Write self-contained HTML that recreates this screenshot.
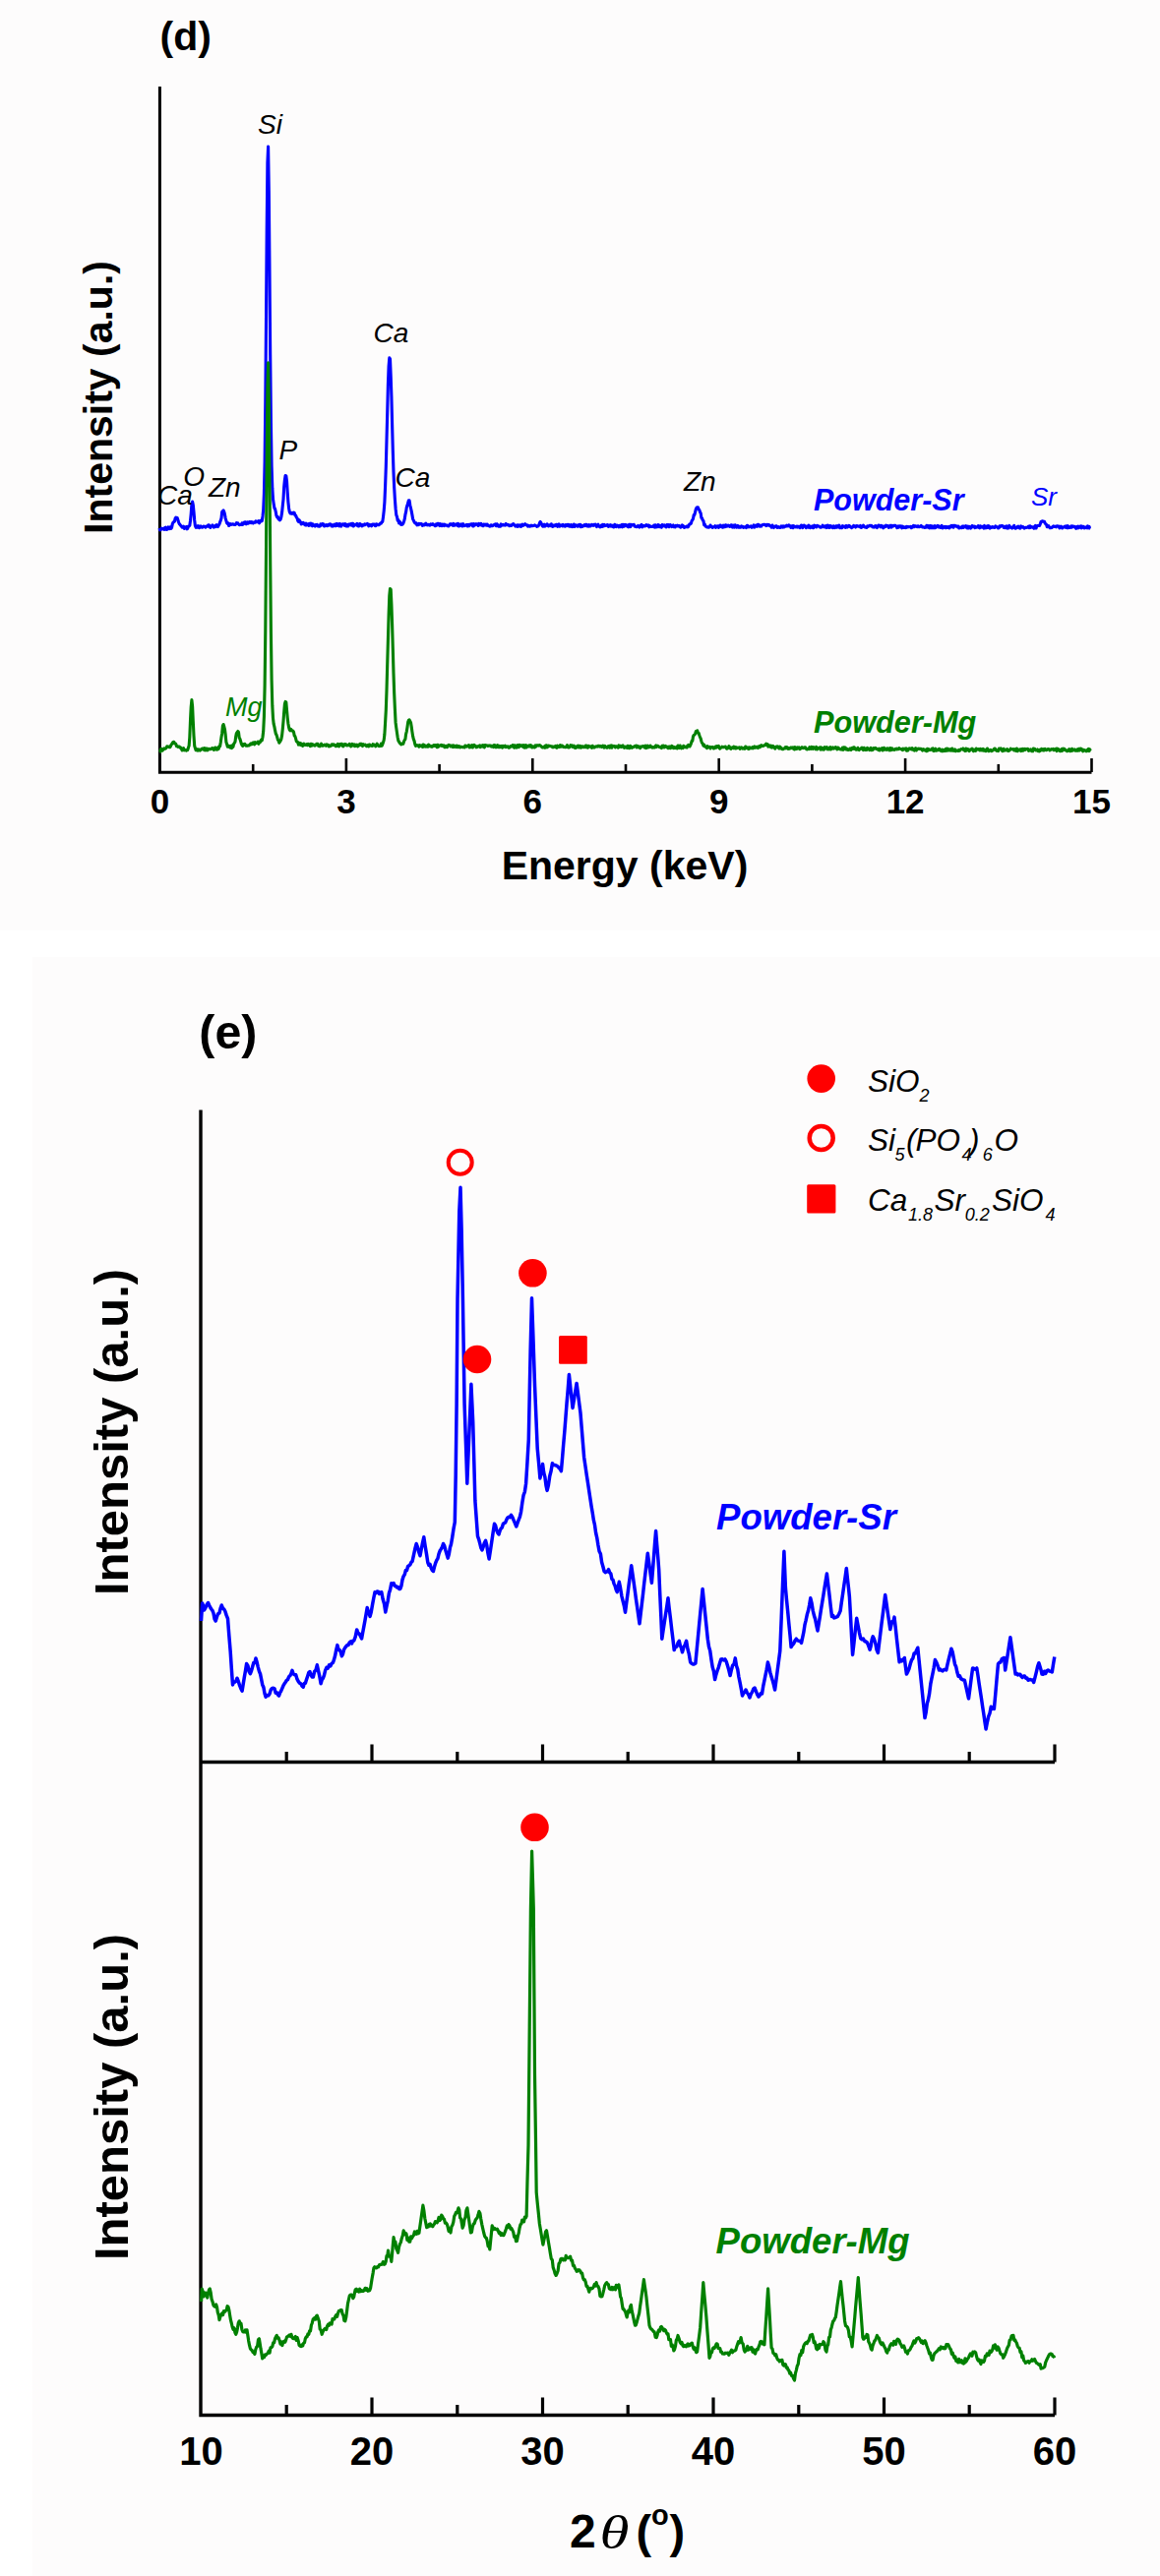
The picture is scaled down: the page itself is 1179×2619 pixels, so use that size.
<!DOCTYPE html>
<html><head><meta charset="utf-8"><title>EDS and XRD spectra</title>
<style>html,body{margin:0;padding:0;background:#ffffff;}svg{display:block;}</style>
</head><body>
<svg width="1179" height="2619" viewBox="0 0 1179 2619"><rect width="1179" height="2619" fill="#ffffff"/><rect width="1179" height="946" fill="#fdfcfc"/><rect x="33" y="973" width="1146" height="1646" fill="#fdfcfc"/><g font-family='"Liberation Sans", sans-serif'><text x="162.6" y="50.8" font-size="41" font-weight="bold">(d)</text><path d="M162.4 88 V785.2 H1109.5" fill="none" stroke="#000" stroke-width="3"/><path d="M257.2 785 V777 M351.9 785 V771 M446.6 785 V777 M541.3 785 V771 M636 785 V777 M730.7 785 V771 M825.4 785 V777 M920.1 785 V771 M1014.8 785 V777 M1109.5 785 V771" stroke="#000" stroke-width="2.6"/><text x="162.5" y="827" font-size="35" font-weight="bold" text-anchor="middle">0</text><text x="351.9" y="827" font-size="35" font-weight="bold" text-anchor="middle">3</text><text x="541.3" y="827" font-size="35" font-weight="bold" text-anchor="middle">6</text><text x="730.7" y="827" font-size="35" font-weight="bold" text-anchor="middle">9</text><text x="920.1" y="827" font-size="35" font-weight="bold" text-anchor="middle">12</text><text x="1109.5" y="827" font-size="35" font-weight="bold" text-anchor="middle">15</text><text x="635" y="894" font-size="41" font-weight="bold" text-anchor="middle">Energy (keV)</text><text transform="translate(114 404) rotate(-90)" font-size="41" font-weight="bold" text-anchor="middle">Intensity (a.u.)</text><path d="M162 537 L162.7 538.9 L163.4 538.6 L164.1 537.2 L164.8 537.8 L165.5 537.6 L166.2 538.1 L166.9 538.4 L167.6 536.4 L168.3 536.2 L169 538.4 L169.7 537.2 L170.4 538.1 L171.1 535.9 L171.8 537 L172.5 537.6 L173.2 535.8 L173.9 537.3 L174.6 536.3 L175.3 532.6 L176 531.1 L176.7 530.7 L177.4 530.1 L178.1 527.2 L178.8 526.1 L179.5 526.8 L180.2 526.6 L180.9 528.7 L181.6 531 L182.3 532.8 L183 533.4 L183.7 534.4 L184.4 535 L185.1 536.1 L185.8 535.8 L186.5 535.1 L187.2 537.4 L187.9 536.6 L188.6 536.9 L189.3 535.5 L190 537.8 L190.7 537.4 L191.4 535.1 L192.1 535.1 L192.8 534.3 L193.5 529.5 L194.2 522.3 L194.9 512.6 L195.6 510.1 L196.3 513.3 L197 520.5 L197.7 529 L198.4 534.5 L199.1 536.3 L199.8 535.9 L200.5 536.2 L201.2 534.6 L201.9 535.1 L202.6 536.6 L203.3 535.5 L204 534.8 L204.7 535.8 L205.4 536.2 L206.1 536 L206.8 535.1 L207.5 535.3 L208.2 535.4 L208.9 536.1 L209.6 535.3 L210.3 534.9 L211 535.1 L211.7 533.8 L212.4 533.8 L213.1 535.6 L213.8 536.3 L214.5 535.2 L215.2 534.6 L215.9 533.9 L216.6 534.8 L217.3 536.1 L218 535.4 L218.7 534.7 L219.4 535.6 L220.1 533.7 L220.8 534.4 L221.5 535.5 L222.2 534.1 L222.9 533 L223.6 530.9 L224.3 529.1 L225 526.8 L225.7 520.4 L226.4 519.7 L227.1 518.9 L227.8 520.5 L228.5 523.2 L229.2 527.1 L229.9 529.4 L230.6 531.7 L231.3 532.5 L232 532 L232.7 534.5 L233.4 533.7 L234.1 532.6 L234.8 533.4 L235.5 533.3 L236.2 532.9 L236.9 532.8 L237.6 533.3 L238.3 533.5 L239 533.4 L239.7 532.9 L240.4 531.6 L241.1 532.1 L241.8 531.9 L242.5 533 L243.2 533.7 L243.9 533.5 L244.6 533.4 L245.3 533.4 L246 531.8 L246.7 533.3 L247.4 532.8 L248.1 531.1 L248.8 530.8 L249.5 530.8 L250.2 532.8 L250.9 531.3 L251.6 530.9 L252.3 532.2 L253 531.4 L253.7 530.5 L254.4 530.7 L255.1 531.7 L255.8 530.6 L256.5 530.9 L257.2 532 L257.9 531.2 L258.6 530.8 L259.3 531.2 L260 529.8 L260.7 530.8 L261.4 530.8 L262.1 530.1 L262.8 529.7 L263.5 531.8 L264.2 530.5 L264.9 529.3 L265.6 530 L266.3 529.6 L267 524.9 L267.7 518.2 L268.4 502.3 L269.1 469.7 L269.8 408.3 L270.5 325.3 L271.2 233.6 L271.9 165.5 L272.6 149.1 L273.3 194.1 L274 274.6 L274.7 361.1 L275.4 429.3 L276.1 474 L276.8 496.2 L277.5 507.5 L278.2 512.2 L278.9 516.5 L279.6 517.5 L280.3 520.5 L281 524.4 L281.7 525.8 L282.4 525.5 L283.1 527.9 L283.8 527 L284.5 528.9 L285.2 527.9 L285.9 525.3 L286.6 521.1 L287.3 514.1 L288 507.6 L288.7 494.9 L289.4 488 L290.1 483.6 L290.8 483.7 L291.5 489.2 L292.2 500.6 L292.9 510.3 L293.6 516.7 L294.3 520.4 L295 521.9 L295.7 522.1 L296.4 521.4 L297.1 522.3 L297.8 521.5 L298.5 521 L299.2 521.4 L299.9 523.9 L300.6 524 L301.3 525.9 L302 526.7 L302.7 529.4 L303.4 530.5 L304.1 528.8 L304.8 529.9 L305.5 530.8 L306.2 533 L306.9 532.6 L307.6 531.6 L308.3 531.4 L309 532.8 L309.7 533.4 L310.4 533.8 L311.1 532.2 L311.8 533.8 L312.5 533.4 L313.2 532.9 L313.9 534.4 L314.6 532.4 L315.3 533.9 L316 532.2 L316.7 532.6 L317.4 534.8 L318.1 532.9 L318.8 534.5 L319.5 534.2 L320.2 535 L320.9 533.6 L321.6 533.5 L322.3 533.4 L323 535 L323.7 534.3 L324.4 535.2 L325.1 535 L325.8 532.9 L326.5 534.1 L327.2 532.8 L327.9 532.6 L328.6 532.7 L329.3 534.9 L330 534.7 L330.7 534.8 L331.4 533.5 L332.1 534.2 L332.8 534.7 L333.5 533.5 L334.2 534.1 L334.9 533.1 L335.6 532.7 L336.3 533.2 L337 535 L337.7 534 L338.4 535 L339.1 533.7 L339.8 533.2 L340.5 534.6 L341.2 534.7 L341.9 532.5 L342.6 534.3 L343.3 532.7 L344 532.7 L344.7 534.9 L345.4 532.5 L346.1 533.1 L346.8 535.1 L347.5 533.5 L348.2 532.7 L348.9 532.8 L349.6 533 L350.3 534.4 L351 532.6 L351.7 534.9 L352.4 533.4 L353.1 535 L353.8 534.9 L354.5 533.1 L355.2 533 L355.9 533.6 L356.6 532.6 L357.3 534.1 L358 532.4 L358.7 532.3 L359.4 535 L360.1 533.1 L360.8 533.9 L361.5 533.5 L362.2 533.1 L362.9 532.4 L363.6 534.8 L364.3 534.9 L365 534.9 L365.7 532.5 L366.4 532.8 L367.1 533.9 L367.8 534.9 L368.5 533.7 L369.2 534.1 L369.9 534 L370.6 532.9 L371.3 533.7 L372 533 L372.7 532.9 L373.4 532.4 L374.1 532.9 L374.8 534.9 L375.5 533.4 L376.2 534 L376.9 533.9 L377.6 534.8 L378.3 533.2 L379 533 L379.7 533 L380.4 533 L381.1 534.5 L381.8 534.6 L382.5 532.9 L383.2 533 L383.9 533.6 L384.6 533.7 L385.3 533.7 L386 532.7 L386.7 531.9 L387.4 532.1 L388.1 530.8 L388.8 530.4 L389.5 525.6 L390.2 519.3 L390.9 510.6 L391.6 494.1 L392.3 474.2 L393 447.3 L393.7 419.9 L394.4 391.4 L395.1 372.4 L395.8 363.9 L396.5 365.1 L397.2 382.2 L397.9 403 L398.6 431.4 L399.3 458.1 L400 480.1 L400.7 496 L401.4 507.8 L402.1 517.2 L402.8 523.6 L403.5 525.3 L404.2 529.2 L404.9 528.7 L405.6 531.9 L406.3 530.3 L407 531.6 L407.7 533.5 L408.4 533.2 L409.1 533.1 L409.8 532.1 L410.5 530.3 L411.2 527.9 L411.9 523.4 L412.6 520.4 L413.3 515.8 L414 513.8 L414.7 511.1 L415.4 508.8 L416.1 508.9 L416.8 513.6 L417.5 516.5 L418.2 519.6 L418.9 523.4 L419.6 527.6 L420.3 529 L421 530.6 L421.7 531.7 L422.4 532.1 L423.1 531.8 L423.8 533.8 L424.5 533.2 L425.2 533.7 L425.9 532.3 L426.6 533.1 L427.3 532.5 L428 532.5 L428.7 532.8 L429.4 534.4 L430.1 533.2 L430.8 533.2 L431.5 533.8 L432.2 532.8 L432.9 532.1 L433.6 533.6 L434.3 533.5 L435 533.9 L435.7 533.3 L436.4 534 L437.1 534.1 L437.8 532.8 L438.5 533.5 L439.2 533.4 L439.9 532.7 L440.6 533.3 L441.3 533.7 L442 534.7 L442.7 534.7 L443.4 532.9 L444.1 533.9 L444.8 532.3 L445.5 532.3 L446.2 533.6 L446.9 534.6 L447.6 532.6 L448.3 534.3 L449 534.6 L449.7 533 L450.4 534.1 L451.1 534.5 L451.8 533.2 L452.5 534.1 L453.2 534.2 L453.9 533.8 L454.6 534.6 L455.3 534.7 L456 534.9 L456.7 533.8 L457.4 532.7 L458.1 532.9 L458.8 532.8 L459.5 533.8 L460.2 534.3 L460.9 532.4 L461.6 534.1 L462.3 534.2 L463 533.2 L463.7 533.7 L464.4 532.7 L465.1 534.3 L465.8 532.4 L466.5 535 L467.2 534.5 L467.9 534 L468.6 533 L469.3 534.8 L470 535 L470.7 532.7 L471.4 534.5 L472.1 534.6 L472.8 534.1 L473.5 534.3 L474.2 533.5 L474.9 534.9 L475.6 535 L476.3 533.4 L477 534.6 L477.7 533.5 L478.4 532.8 L479.1 533.2 L479.8 532.7 L480.5 534.9 L481.2 535 L481.9 532.7 L482.6 534 L483.3 533.5 L484 532.7 L484.7 533.2 L485.4 533.1 L486.1 534.5 L486.8 532.4 L487.5 532.9 L488.2 533.6 L488.9 532.4 L489.6 534.1 L490.3 534.1 L491 534.7 L491.7 533 L492.4 533.2 L493.1 533.9 L493.8 533.2 L494.5 534.1 L495.2 533.1 L495.9 534.3 L496.6 534.6 L497.3 534.7 L498 535.2 L498.7 534 L499.4 533.8 L500.1 534.8 L500.8 534.6 L501.5 534.1 L502.2 533.5 L502.9 533.3 L503.6 532.8 L504.3 534.7 L505 532.8 L505.7 534.6 L506.4 534 L507.1 535.2 L507.8 534.6 L508.5 535.2 L509.2 532.9 L509.9 533.9 L510.6 534.1 L511.3 533.4 L512 533.9 L512.7 533.5 L513.4 534 L514.1 532.5 L514.8 533.8 L515.5 533.8 L516.2 533.4 L516.9 533.7 L517.6 534.7 L518.3 534.5 L519 533.9 L519.7 534.4 L520.4 533.6 L521.1 533.1 L521.8 532.6 L522.5 533.4 L523.2 534.3 L523.9 535.1 L524.6 534.9 L525.3 534 L526 535.4 L526.7 533.9 L527.4 534.9 L528.1 533.8 L528.8 534.7 L529.5 535.4 L530.2 533.5 L530.9 533.1 L531.6 534.4 L532.3 534.1 L533 533.6 L533.7 532.7 L534.4 533.7 L535.1 533.8 L535.8 533.8 L536.5 535.1 L537.2 534.3 L537.9 534.7 L538.6 535.2 L539.3 534.8 L540 534.1 L540.7 534.8 L541.4 534.5 L542.1 534.5 L542.8 534.5 L543.5 533.8 L544.2 534.5 L544.9 534.5 L545.6 535.3 L546.3 534.9 L547 534.9 L547.7 533.8 L548.4 532 L549.1 530.5 L549.8 531.3 L550.5 532.8 L551.2 534.6 L551.9 535.2 L552.6 534.3 L553.3 533.2 L554 535.1 L554.7 534.1 L555.4 534.1 L556.1 532.9 L556.8 534.2 L557.5 534.9 L558.2 534 L558.9 533.8 L559.6 534.6 L560.3 532.8 L561 534.2 L561.7 535.5 L562.4 534.7 L563.1 533.9 L563.8 534.7 L564.5 534.5 L565.2 533.4 L565.9 533.4 L566.6 535.3 L567.3 533.6 L568 533 L568.7 535.2 L569.4 534.3 L570.1 533.9 L570.8 534.3 L571.5 534.9 L572.2 533.3 L572.9 534.7 L573.6 534.9 L574.3 535.2 L575 533.6 L575.7 534.6 L576.4 533.5 L577.1 534.5 L577.8 533.4 L578.5 535.1 L579.2 535.3 L579.9 533.8 L580.6 533.5 L581.3 535.6 L582 534.9 L582.7 535.3 L583.4 533 L584.1 535.4 L584.8 534.7 L585.5 533.8 L586.2 534.2 L586.9 535.1 L587.6 535.2 L588.3 533.5 L589 534.7 L589.7 533.4 L590.4 535.7 L591.1 534.2 L591.8 535.5 L592.5 535 L593.2 534.7 L593.9 533.7 L594.6 534.5 L595.3 533.4 L596 533.4 L596.7 535 L597.4 534 L598.1 535.1 L598.8 533.7 L599.5 535 L600.2 535 L600.9 533.9 L601.6 533.3 L602.3 534.1 L603 534.4 L603.7 533.3 L604.4 533.6 L605.1 533.2 L605.8 534.7 L606.5 535.5 L607.2 533.7 L607.9 533.2 L608.6 535 L609.3 535.4 L610 535.8 L610.7 534.8 L611.4 534 L612.1 535.4 L612.8 533.4 L613.5 535 L614.2 533.4 L614.9 534.2 L615.6 534.5 L616.3 534.2 L617 533.6 L617.7 533.8 L618.4 535.4 L619.1 534.4 L619.8 534.8 L620.5 533.7 L621.2 535.1 L621.9 534.1 L622.6 534.8 L623.3 535.7 L624 535.9 L624.7 533.3 L625.4 535.4 L626.1 535.6 L626.8 534.1 L627.5 534.3 L628.2 534.8 L628.9 535.8 L629.6 534.3 L630.3 535.7 L631 535.3 L631.7 533.6 L632.4 535.8 L633.1 533.3 L633.8 533.6 L634.5 535.1 L635.2 533.4 L635.9 534.3 L636.6 533.6 L637.3 534.5 L638 535.6 L638.7 535.8 L639.4 533.3 L640.1 533.4 L640.8 535.6 L641.5 533.4 L642.2 534 L642.9 533.6 L643.6 533.5 L644.3 533.4 L645 535.1 L645.7 535.4 L646.4 535.2 L647.1 535.7 L647.8 535.2 L648.5 534.4 L649.2 535.1 L649.9 536 L650.6 535.1 L651.3 534 L652 533.5 L652.7 535.9 L653.4 535 L654.1 534.3 L654.8 535 L655.5 534.9 L656.2 534.8 L656.9 533.5 L657.6 534.3 L658.3 534.5 L659 533.9 L659.7 535.8 L660.4 534.6 L661.1 535.2 L661.8 535.4 L662.5 535.5 L663.2 535.4 L663.9 535.5 L664.6 534.1 L665.3 536.1 L666 533.8 L666.7 536 L667.4 535.8 L668.1 535.8 L668.8 533.6 L669.5 533.7 L670.2 535.7 L670.9 534.7 L671.6 534.5 L672.3 536.2 L673 533.6 L673.7 534.9 L674.4 534.7 L675.1 533.8 L675.8 534.6 L676.5 535.4 L677.2 535.9 L677.9 533.5 L678.6 534.9 L679.3 533.7 L680 535.7 L680.7 533.7 L681.4 533.6 L682.1 534.6 L682.8 535.6 L683.5 534.4 L684.2 533.9 L684.9 535.7 L685.6 535.8 L686.3 535.9 L687 534.4 L687.7 534.7 L688.4 534.2 L689.1 535.1 L689.8 534.5 L690.5 534.5 L691.2 535.7 L691.9 536.2 L692.6 535.2 L693.3 533.9 L694 535.4 L694.7 534.8 L695.4 536.3 L696.1 535.6 L696.8 535.9 L697.5 535.5 L698.2 535 L698.9 535.9 L699.6 535.5 L700.3 533.7 L701 532.8 L701.7 532.7 L702.4 532.2 L703.1 529.7 L703.8 528.7 L704.5 527.3 L705.2 523.6 L705.9 523.4 L706.6 520.6 L707.3 517.7 L708 516.3 L708.7 515.7 L709.4 515.7 L710.1 517.7 L710.8 518.5 L711.5 520.6 L712.2 521.8 L712.9 526.4 L713.6 526.9 L714.3 528.9 L715 529.8 L715.7 533.7 L716.4 533.2 L717.1 535.1 L717.8 535.6 L718.5 536 L719.2 535.7 L719.9 536.1 L720.6 536.2 L721.3 535.9 L722 534 L722.7 535.1 L723.4 535.3 L724.1 536.4 L724.8 535.9 L725.5 535.6 L726.2 535.8 L726.9 534.7 L727.6 536.3 L728.3 535.5 L729 534.8 L729.7 535 L730.4 536.4 L731.1 535.2 L731.8 534.1 L732.5 534.1 L733.2 535.6 L733.9 535.3 L734.6 536.2 L735.3 534.2 L736 534.8 L736.7 535.7 L737.4 533.8 L738.1 534 L738.8 535.2 L739.5 534.4 L740.2 534 L740.9 534.4 L741.6 535.5 L742.3 535.2 L743 533.9 L743.7 533.9 L744.4 536.1 L745.1 535.5 L745.8 534.2 L746.5 536.1 L747.2 533.8 L747.9 534.7 L748.6 536.1 L749.3 535.7 L750 534.5 L750.7 536.2 L751.4 535.4 L752.1 536.2 L752.8 536.2 L753.5 534.9 L754.2 535.6 L754.9 535.3 L755.6 536.4 L756.3 536 L757 535.8 L757.7 536 L758.4 536.5 L759.1 534.5 L759.8 534.3 L760.5 535.8 L761.2 535.9 L761.9 535.2 L762.6 535.1 L763.3 534.9 L764 536.2 L764.7 536 L765.4 535.4 L766.1 533.8 L766.8 536.1 L767.5 534.9 L768.2 534.1 L768.9 534.3 L769.6 535.3 L770.3 533.3 L771 533.5 L771.7 533.8 L772.4 535.2 L773.1 534.6 L773.8 535 L774.5 533.7 L775.2 533.6 L775.9 533.4 L776.6 533.3 L777.3 533.3 L778 534.1 L778.7 534.6 L779.4 533.3 L780.1 534.1 L780.8 533.4 L781.5 533.6 L782.2 534.4 L782.9 534.8 L783.6 534.8 L784.3 536.2 L785 534 L785.7 535.4 L786.4 536.5 L787.1 535.8 L787.8 535.3 L788.5 534.8 L789.2 534.9 L789.9 536.4 L790.6 536.3 L791.3 535.7 L792 536.3 L792.7 536.4 L793.4 536.2 L794.1 534.9 L794.8 535.1 L795.5 536.1 L796.2 534.9 L796.9 535.9 L797.6 535.2 L798.3 534.8 L799 535.1 L799.7 534.2 L800.4 534.8 L801.1 535 L801.8 533.9 L802.5 534.3 L803.2 534.6 L803.9 536.3 L804.6 535.5 L805.3 534.7 L806 536.7 L806.7 534.6 L807.4 535.3 L808.1 535.9 L808.8 535.8 L809.5 535.1 L810.2 536 L810.9 535.2 L811.6 535.9 L812.3 535.3 L813 536.6 L813.7 535.9 L814.4 534.1 L815.1 534.2 L815.8 536.6 L816.5 534.5 L817.2 534 L817.9 534.6 L818.6 535.2 L819.3 536.6 L820 535 L820.7 535.9 L821.4 536.2 L822.1 534.1 L822.8 535.6 L823.5 536.7 L824.2 535.4 L824.9 535.4 L825.6 534.9 L826.3 536.6 L827 536.6 L827.7 534.2 L828.4 535.5 L829.1 535.1 L829.8 535.8 L830.5 534.3 L831.2 534.7 L831.9 534.7 L832.6 535.3 L833.3 536.1 L834 536.3 L834.7 536.1 L835.4 535.8 L836.1 534.2 L836.8 535 L837.5 535.8 L838.2 534.8 L838.9 535.4 L839.6 536.5 L840.3 534.3 L841 536.3 L841.7 534.2 L842.4 535 L843.1 536.5 L843.8 534.5 L844.5 535.4 L845.2 535.1 L845.9 536.4 L846.6 536.7 L847.3 534.8 L848 535.3 L848.7 536.5 L849.4 535.5 L850.1 534.6 L850.8 536.1 L851.5 534.9 L852.2 535.3 L852.9 534 L853.6 536.7 L854.3 535.8 L855 536.6 L855.7 536.7 L856.4 534.7 L857.1 535.5 L857.8 535.2 L858.5 536.1 L859.2 536.3 L859.9 534.6 L860.6 534.8 L861.3 536 L862 535.1 L862.7 534.4 L863.4 534.5 L864.1 535.6 L864.8 535.7 L865.5 536.7 L866.2 535.5 L866.9 535.7 L867.6 534.4 L868.3 535.2 L869 534.8 L869.7 536 L870.4 534.8 L871.1 534.6 L871.8 535 L872.5 535.3 L873.2 535 L873.9 535.7 L874.6 534.5 L875.3 536.5 L876 536 L876.7 535.5 L877.4 534.2 L878.1 534.9 L878.8 536 L879.5 535.8 L880.2 536.3 L880.9 536.5 L881.6 534.9 L882.3 535.4 L883 535 L883.7 534.4 L884.4 534.4 L885.1 534.8 L885.8 534.3 L886.5 535.6 L887.2 536 L887.9 535.6 L888.6 536 L889.3 534.7 L890 534.6 L890.7 535.7 L891.4 536.5 L892.1 535.3 L892.8 534.1 L893.5 534.1 L894.2 534.9 L894.9 535.8 L895.6 534.3 L896.3 534.7 L897 536 L897.7 536.8 L898.4 535 L899.1 535.8 L899.8 535.5 L900.5 534.2 L901.2 535 L901.9 534.5 L902.6 534.8 L903.3 536.3 L904 536 L904.7 534.2 L905.4 534.3 L906.1 536.1 L906.8 534.4 L907.5 535 L908.2 534.9 L908.9 534.3 L909.6 534.2 L910.3 534.5 L911 535.2 L911.7 536.7 L912.4 535.9 L913.1 534.8 L913.8 536 L914.5 534.9 L915.2 535.6 L915.9 535 L916.6 536.8 L917.3 535.1 L918 536.4 L918.7 535.9 L919.4 536.5 L920.1 535.8 L920.8 536.6 L921.5 535.3 L922.2 536 L922.9 535.9 L923.6 535.6 L924.3 535.7 L925 535.7 L925.7 535.3 L926.4 536.7 L927.1 535.9 L927.8 535.7 L928.5 534.3 L929.2 535.6 L929.9 534.7 L930.6 534.8 L931.3 535.4 L932 535.7 L932.7 534.9 L933.4 534.9 L934.1 535.7 L934.8 535.5 L935.5 535.3 L936.2 534.5 L936.9 535.2 L937.6 536 L938.3 535.7 L939 535.7 L939.7 536.5 L940.4 536.2 L941.1 536.1 L941.8 534.3 L942.5 535.1 L943.2 536.1 L943.9 534.6 L944.6 536.8 L945.3 534.6 L946 536.7 L946.7 534.8 L947.4 536.6 L948.1 536.6 L948.8 535.1 L949.5 536.7 L950.2 534.7 L950.9 536.6 L951.6 535.3 L952.3 535.4 L953 534.5 L953.7 535.9 L954.4 535 L955.1 536.1 L955.8 536.5 L956.5 535.9 L957.2 534.3 L957.9 536.9 L958.6 536.8 L959.3 536 L960 535.3 L960.7 535.8 L961.4 536.7 L962.1 535.5 L962.8 536.4 L963.5 535.9 L964.2 535.4 L964.9 536.9 L965.6 535.4 L966.3 535.9 L967 534.4 L967.7 535.6 L968.4 534.4 L969.1 536.2 L969.8 534.3 L970.5 534.4 L971.2 534.6 L971.9 534.7 L972.6 535.7 L973.3 535.3 L974 535 L974.7 537 L975.4 536.8 L976.1 536.1 L976.8 536.5 L977.5 536.6 L978.2 535 L978.9 536.5 L979.6 535 L980.3 535.9 L981 535.3 L981.7 534.7 L982.4 536.5 L983.1 536.9 L983.8 535.2 L984.5 536.8 L985.2 535.3 L985.9 536.1 L986.6 537.1 L987.3 536.5 L988 534.5 L988.7 535.5 L989.4 535.4 L990.1 535.1 L990.8 536.6 L991.5 535.5 L992.2 536.3 L992.9 536.1 L993.6 535.8 L994.3 534.5 L995 536.2 L995.7 536.8 L996.4 534.8 L997.1 536.1 L997.8 535.7 L998.5 535.3 L999.2 536.3 L999.9 537.1 L1000.6 534.4 L1001.3 536.8 L1002 535.4 L1002.7 536.7 L1003.4 534.8 L1004.1 536.3 L1004.8 534.6 L1005.5 535.3 L1006.2 537.1 L1006.9 536.2 L1007.6 536.5 L1008.3 535.6 L1009 535.7 L1009.7 535.7 L1010.4 536.5 L1011.1 536.4 L1011.8 534.9 L1012.5 535.6 L1013.2 535.9 L1013.9 536 L1014.6 537 L1015.3 536.7 L1016 534.8 L1016.7 535.4 L1017.4 534.7 L1018.1 534.5 L1018.8 534.6 L1019.5 534.9 L1020.2 536.5 L1020.9 536.3 L1021.6 536.6 L1022.3 535.2 L1023 534.8 L1023.7 537.1 L1024.4 536.7 L1025.1 537 L1025.8 534.4 L1026.5 535.5 L1027.2 536.2 L1027.9 536.5 L1028.6 537 L1029.3 535.9 L1030 535.5 L1030.7 534.4 L1031.4 536.7 L1032.1 537.2 L1032.8 537 L1033.5 536.3 L1034.2 535.4 L1034.9 535.1 L1035.6 536.6 L1036.3 537 L1037 537.1 L1037.7 534.9 L1038.4 536.1 L1039.1 535.9 L1039.8 535.6 L1040.5 536.7 L1041.2 537.1 L1041.9 536.5 L1042.6 536.4 L1043.3 536.4 L1044 536.3 L1044.7 535.9 L1045.4 535.1 L1046.1 536.6 L1046.8 534.8 L1047.5 536.3 L1048.2 535.5 L1048.9 536 L1049.6 536.2 L1050.3 535.8 L1051 537.2 L1051.7 535.1 L1052.4 534.4 L1053.1 537 L1053.8 535 L1054.5 534.6 L1055.2 534.4 L1055.9 534.2 L1056.6 534.5 L1057.3 532.7 L1058 530.6 L1058.7 530.4 L1059.4 529.8 L1060.1 530 L1060.8 530.2 L1061.5 530.3 L1062.2 532 L1062.9 532.9 L1063.6 533.3 L1064.3 535.7 L1065 534.9 L1065.7 534.6 L1066.4 535.9 L1067.1 536.8 L1067.8 536.7 L1068.5 536.2 L1069.2 536.5 L1069.9 535.4 L1070.6 534.9 L1071.3 535.2 L1072 535.5 L1072.7 535.3 L1073.4 535.8 L1074.1 534.9 L1074.8 534.9 L1075.5 535.2 L1076.2 535.1 L1076.9 536.8 L1077.6 536 L1078.3 535.1 L1079 535.7 L1079.7 537 L1080.4 536.1 L1081.1 536.1 L1081.8 535.6 L1082.5 535.1 L1083.2 536.3 L1083.9 534.8 L1084.6 536.7 L1085.3 534.7 L1086 536.6 L1086.7 535.6 L1087.4 536.5 L1088.1 536.2 L1088.8 534.9 L1089.5 536.1 L1090.2 534.8 L1090.9 535.2 L1091.6 535.6 L1092.3 535.4 L1093 536.4 L1093.7 537.3 L1094.4 535.6 L1095.1 536.9 L1095.8 535.2 L1096.5 536.6 L1097.2 535.5 L1097.9 536.1 L1098.6 534.8 L1099.3 536.9 L1100 535.2 L1100.7 535.9 L1101.4 535.4 L1102.1 536.9 L1102.8 536.2 L1103.5 536.3 L1104.2 536.7 L1104.9 535.3 L1105.6 534.8 L1106.3 536.9 L1107 535.5 L1107.7 536.9 L1108.4 537.3" fill="none" stroke="#0000ff" stroke-width="3.1" stroke-linejoin="round"/><path d="M162 764.8 L162.7 764.4 L163.4 761.6 L164.1 761.4 L164.8 763.2 L165.5 762.6 L166.2 762.1 L166.9 760.8 L167.6 761.3 L168.3 761 L169 760.5 L169.7 758.9 L170.4 759.3 L171.1 759 L171.8 759.6 L172.5 759.8 L173.2 759.1 L173.9 757.4 L174.6 756.5 L175.3 755.5 L176 754.5 L176.7 754.3 L177.4 755.7 L178.1 755.7 L178.8 756.5 L179.5 758.7 L180.2 758.5 L180.9 759.3 L181.6 759 L182.3 759 L183 760.2 L183.7 760 L184.4 761.3 L185.1 762.8 L185.8 762 L186.5 760.7 L187.2 762.8 L187.9 762.6 L188.6 762.5 L189.3 763.1 L190 762.7 L190.7 762.5 L191.4 760.2 L192.1 758.3 L192.8 749.5 L193.5 732.5 L194.2 718.6 L194.9 711.6 L195.6 717.8 L196.3 733.5 L197 748.1 L197.7 758.2 L198.4 760.6 L199.1 762.7 L199.8 761.5 L200.5 763 L201.2 763.1 L201.9 761.8 L202.6 762.1 L203.3 763 L204 762.4 L204.7 761.7 L205.4 761 L206.1 761.2 L206.8 762.2 L207.5 760.7 L208.2 762.8 L208.9 760.9 L209.6 762.7 L210.3 761 L211 762.8 L211.7 762 L212.4 761.4 L213.1 761.5 L213.8 761.8 L214.5 761.6 L215.2 760.8 L215.9 760.5 L216.6 761.3 L217.3 762.4 L218 761.5 L218.7 760 L219.4 762 L220.1 761.7 L220.8 762.2 L221.5 760.1 L222.2 761.3 L222.9 758.7 L223.6 758.7 L224.3 754.5 L225 749.5 L225.7 745.4 L226.4 737.9 L227.1 736.5 L227.8 738.8 L228.5 741.6 L229.2 747.3 L229.9 754.4 L230.6 756.5 L231.3 759.2 L232 758.1 L232.7 759.3 L233.4 758.7 L234.1 760.1 L234.8 758.3 L235.5 760.6 L236.2 757.8 L236.9 759.3 L237.6 756.4 L238.3 755.3 L239 754.1 L239.7 748.8 L240.4 745.4 L241.1 744.6 L241.8 743.5 L242.5 744.4 L243.2 750.2 L243.9 751.2 L244.6 753.5 L245.3 756.1 L246 757.7 L246.7 758.4 L247.4 756.7 L248.1 757.3 L248.8 756.3 L249.5 757.4 L250.2 758.2 L250.9 758 L251.6 758.3 L252.3 757.8 L253 757.9 L253.7 757.4 L254.4 756.6 L255.1 755.8 L255.8 756.8 L256.5 755.7 L257.2 755 L257.9 755.8 L258.6 756.9 L259.3 754.7 L260 755.8 L260.7 755.1 L261.4 755.3 L262.1 754.2 L262.8 756.3 L263.5 754.1 L264.2 754.7 L264.9 753.8 L265.6 752.1 L266.3 752.7 L267 749.3 L267.7 743.2 L268.4 728.6 L269.1 697.7 L269.8 641 L270.5 559.9 L271.2 466.1 L271.9 393.2 L272.6 368.7 L273.3 404.4 L274 480.7 L274.7 570.4 L275.4 643 L276.1 691.3 L276.8 717.2 L277.5 730.1 L278.2 736.2 L278.9 738.9 L279.6 742.7 L280.3 745.9 L281 747.1 L281.7 749.4 L282.4 752.2 L283.1 752.8 L283.8 755.2 L284.5 754 L285.2 753 L285.9 751.3 L286.6 747.6 L287.3 741.1 L288 733.4 L288.7 723.8 L289.4 715.8 L290.1 713.4 L290.8 714 L291.5 721.8 L292.2 729.6 L292.9 735.7 L293.6 739.5 L294.3 742 L295 742.9 L295.7 741.3 L296.4 742.4 L297.1 743.1 L297.8 743 L298.5 744.2 L299.2 747.9 L299.9 748.6 L300.6 750.9 L301.3 753.7 L302 754.2 L302.7 754.4 L303.4 757.1 L304.1 756 L304.8 755.4 L305.5 757.5 L306.2 756 L306.9 756.7 L307.6 758.3 L308.3 757.9 L309 756.1 L309.7 757.3 L310.4 757.2 L311.1 757.5 L311.8 756.7 L312.5 757.7 L313.2 756.3 L313.9 756.9 L314.6 757.1 L315.3 758.7 L316 756.3 L316.7 758.2 L317.4 756.6 L318.1 757.7 L318.8 757.2 L319.5 757.4 L320.2 758.2 L320.9 757.2 L321.6 756.4 L322.3 756.4 L323 756.3 L323.7 758.5 L324.4 757.9 L325.1 758.8 L325.8 758 L326.5 756.2 L327.2 757.9 L327.9 758.3 L328.6 758.1 L329.3 757.5 L330 757.1 L330.7 757.4 L331.4 758.3 L332.1 756.9 L332.8 757.6 L333.5 757.4 L334.2 758.8 L334.9 758.4 L335.6 758.7 L336.3 758.4 L337 756.9 L337.7 756.7 L338.4 757.5 L339.1 756.8 L339.8 757.3 L340.5 758 L341.2 758.7 L341.9 757.7 L342.6 758.4 L343.3 756.4 L344 757.1 L344.7 758.9 L345.4 756.5 L346.1 757.3 L346.8 756.3 L347.5 756.3 L348.2 758.6 L348.9 758.9 L349.6 757.9 L350.3 756.5 L351 756.9 L351.7 756.7 L352.4 758 L353.1 758 L353.8 757.3 L354.5 757.6 L355.2 756.4 L355.9 757.6 L356.6 758.8 L357.3 758.2 L358 756.4 L358.7 757.5 L359.4 758.1 L360.1 756.8 L360.8 758.6 L361.5 757.4 L362.2 758.1 L362.9 757.2 L363.6 758.9 L364.3 758.3 L365 757.7 L365.7 756.5 L366.4 757.3 L367.1 756.2 L367.8 757.8 L368.5 758.6 L369.2 756.6 L369.9 757.5 L370.6 757.5 L371.3 757.2 L372 758.1 L372.7 758.7 L373.4 758.1 L374.1 757.4 L374.8 758.8 L375.5 757 L376.2 758.2 L376.9 757.9 L377.6 758.2 L378.3 758.5 L379 756.7 L379.7 757.8 L380.4 757.2 L381.1 758 L381.8 758.9 L382.5 757.9 L383.2 756.2 L383.9 757.5 L384.6 758.2 L385.3 758.6 L386 758 L386.7 758.4 L387.4 756 L388.1 758.2 L388.8 756.8 L389.5 754.8 L390.2 752.4 L390.9 746.5 L391.6 734.6 L392.3 722.1 L393 702 L393.7 675.9 L394.4 650.9 L395.1 625.5 L395.8 605.6 L396.5 598.5 L397.2 599.3 L397.9 614.2 L398.6 635 L399.3 659.4 L400 684.6 L400.7 705.3 L401.4 720.9 L402.1 734.7 L402.8 740.1 L403.5 745.1 L404.2 749.8 L404.9 753.1 L405.6 754.2 L406.3 755.7 L407 755.8 L407.7 756.9 L408.4 756.3 L409.1 756.1 L409.8 756.3 L410.5 754 L411.2 752.4 L411.9 751.6 L412.6 746.3 L413.3 743.6 L414 739.2 L414.7 734.1 L415.4 732.3 L416.1 731.8 L416.8 733.4 L417.5 734.5 L418.2 738.8 L418.9 743.9 L419.6 748.4 L420.3 751.4 L421 753.1 L421.7 756.2 L422.4 758.4 L423.1 757.3 L423.8 758 L424.5 757.7 L425.2 758 L425.9 759.2 L426.6 757.6 L427.3 758.6 L428 758.1 L428.7 758.3 L429.4 759.4 L430.1 757 L430.8 759.1 L431.5 757.7 L432.2 758.7 L432.9 759.1 L433.6 758.7 L434.3 758 L435 759.2 L435.7 757.2 L436.4 758.7 L437.1 758 L437.8 758.4 L438.5 759.3 L439.2 759.2 L439.9 758.7 L440.6 757.8 L441.3 757.6 L442 758.3 L442.7 757.6 L443.4 757.8 L444.1 759.7 L444.8 757.3 L445.5 759.3 L446.2 758.1 L446.9 758.1 L447.6 758 L448.3 757.3 L449 758.4 L449.7 757.6 L450.4 758.3 L451.1 757.9 L451.8 759.6 L452.5 759.7 L453.2 758.4 L453.9 758.9 L454.6 759.7 L455.3 758 L456 757.4 L456.7 757.8 L457.4 757.7 L458.1 759 L458.8 758.2 L459.5 758.1 L460.2 759.4 L460.9 757.8 L461.6 759.4 L462.3 758.9 L463 758.3 L463.7 759.5 L464.4 758.1 L465.1 759.6 L465.8 759.8 L466.5 758.6 L467.2 759.1 L467.9 759.8 L468.6 759.3 L469.3 759.3 L470 759.6 L470.7 759.8 L471.4 759.3 L472.1 759.9 L472.8 758 L473.5 758.9 L474.2 759.1 L474.9 758.2 L475.6 758.3 L476.3 757.7 L477 759.9 L477.7 758.2 L478.4 758.5 L479.1 759.7 L479.8 757.7 L480.5 759.9 L481.2 757.6 L481.9 757.3 L482.6 758.2 L483.3 758.2 L484 759.8 L484.7 759.7 L485.4 759.4 L486.1 758.5 L486.8 758.8 L487.5 757.9 L488.2 759.6 L488.9 758.3 L489.6 758.1 L490.3 759 L491 757.7 L491.7 758.2 L492.4 759.9 L493.1 757.5 L493.8 757.7 L494.5 757.9 L495.2 758 L495.9 758.5 L496.6 758 L497.3 758.2 L498 758 L498.7 758 L499.4 759 L500.1 758.2 L500.8 758.3 L501.5 759.5 L502.2 757.5 L502.9 757.7 L503.6 759.7 L504.3 758.5 L505 759.5 L505.7 757.7 L506.4 758.8 L507.1 759.7 L507.8 758.3 L508.5 759.5 L509.2 759 L509.9 758.4 L510.6 760.1 L511.3 758.4 L512 758.7 L512.7 759.1 L513.4 758.2 L514.1 759.7 L514.8 759 L515.5 759 L516.2 758.9 L516.9 760.1 L517.6 760.1 L518.3 759.7 L519 758.6 L519.7 758.5 L520.4 758.9 L521.1 757.5 L521.8 757.7 L522.5 760.2 L523.2 757.8 L523.9 760 L524.6 759.3 L525.3 760 L526 757.6 L526.7 758.3 L527.4 759.6 L528.1 757.4 L528.8 757.7 L529.5 758.4 L530.2 757.9 L530.9 757.8 L531.6 759.3 L532.3 757.7 L533 760.2 L533.7 759.3 L534.4 757.6 L535.1 760 L535.8 758.1 L536.5 758.8 L537.2 759 L537.9 757.8 L538.6 758.9 L539.3 757.6 L540 758 L540.7 760 L541.4 759.8 L542.1 758.9 L542.8 759.4 L543.5 759.9 L544.2 757.9 L544.9 758.9 L545.6 757.9 L546.3 757.8 L547 757.8 L547.7 758.1 L548.4 757.6 L549.1 758.1 L549.8 758.6 L550.5 759.2 L551.2 759.9 L551.9 760 L552.6 759.5 L553.3 758.9 L554 760.1 L554.7 758 L555.4 757.8 L556.1 759.8 L556.8 759.3 L557.5 758.1 L558.2 758.6 L558.9 758.4 L559.6 758.7 L560.3 758.7 L561 758.7 L561.7 759.8 L562.4 759.8 L563.1 759.1 L563.8 758.9 L564.5 758.4 L565.2 759.7 L565.9 760.3 L566.6 758.2 L567.3 759.5 L568 759.5 L568.7 759.4 L569.4 757.7 L570.1 759.1 L570.8 758.1 L571.5 758.1 L572.2 759.2 L572.9 759.4 L573.6 759.3 L574.3 759.7 L575 759.6 L575.7 758.9 L576.4 757.7 L577.1 759.8 L577.8 759.9 L578.5 760 L579.2 759.3 L579.9 757.7 L580.6 758.2 L581.3 757.9 L582 759.4 L582.7 759.2 L583.4 758.2 L584.1 760.3 L584.8 760.4 L585.5 760.2 L586.2 758.9 L586.9 758.5 L587.6 758.2 L588.3 760 L589 759.6 L589.7 758.4 L590.4 760.2 L591.1 759.3 L591.8 758.8 L592.5 758.8 L593.2 759.7 L593.9 759 L594.6 759.5 L595.3 758 L596 759.7 L596.7 758.4 L597.4 760.2 L598.1 758.3 L598.8 758.6 L599.5 759.2 L600.2 758.8 L600.9 759.2 L601.6 760.3 L602.3 758.3 L603 759.9 L603.7 759.7 L604.4 759.9 L605.1 759 L605.8 759 L606.5 758.7 L607.2 759.1 L607.9 758.4 L608.6 758.3 L609.3 759.1 L610 758.3 L610.7 759.1 L611.4 759.4 L612.1 758.6 L612.8 758.2 L613.5 759.4 L614.2 760.2 L614.9 758.4 L615.6 759.5 L616.3 759.6 L617 760.2 L617.7 759.7 L618.4 758.6 L619.1 758.4 L619.8 760.1 L620.5 758.6 L621.2 757.8 L621.9 760.2 L622.6 758.3 L623.3 758.7 L624 758.7 L624.7 758.5 L625.4 759.8 L626.1 758.8 L626.8 759 L627.5 759 L628.2 760.1 L628.9 757.9 L629.6 759.4 L630.3 758.2 L631 758.2 L631.7 759.5 L632.4 758.9 L633.1 758 L633.8 759.5 L634.5 760.4 L635.2 759.6 L635.9 759.2 L636.6 760.1 L637.3 760.4 L638 758.3 L638.7 758.7 L639.4 760.6 L640.1 760.5 L640.8 758.4 L641.5 759.8 L642.2 760.3 L642.9 759.5 L643.6 759.8 L644.3 759.3 L645 758.5 L645.7 758.5 L646.4 758.1 L647.1 759.8 L647.8 758.3 L648.5 759.6 L649.2 759 L649.9 759.1 L650.6 760.6 L651.3 759 L652 759.2 L652.7 759 L653.4 758.5 L654.1 758.5 L654.8 759.4 L655.5 760.2 L656.2 758.2 L656.9 760.6 L657.6 759.8 L658.3 758.1 L659 759.9 L659.7 759.1 L660.4 759.4 L661.1 758.2 L661.8 759.4 L662.5 759.4 L663.2 760.1 L663.9 759.6 L664.6 759.9 L665.3 760 L666 758.6 L666.7 758 L667.4 759.3 L668.1 758.3 L668.8 758.4 L669.5 758.9 L670.2 759.5 L670.9 759.7 L671.6 759.8 L672.3 760.6 L673 758.3 L673.7 759.6 L674.4 758.2 L675.1 759.9 L675.8 759.2 L676.5 758.4 L677.2 758.9 L677.9 759.9 L678.6 759.3 L679.3 760.7 L680 759 L680.7 759 L681.4 760.6 L682.1 759.7 L682.8 758.3 L683.5 760.2 L684.2 759.1 L684.9 760.7 L685.6 759.8 L686.3 760.3 L687 760.6 L687.7 759.5 L688.4 760.8 L689.1 758.1 L689.8 759 L690.5 760.4 L691.2 758.1 L691.9 760 L692.6 760.9 L693.3 760.1 L694 760.5 L694.7 758.3 L695.4 759.6 L696.1 759.8 L696.8 759.2 L697.5 759.1 L698.2 760.1 L698.9 758.1 L699.6 757.5 L700.3 758.5 L701 758.9 L701.7 757.6 L702.4 755.9 L703.1 753.3 L703.8 753.2 L704.5 748.8 L705.2 747.4 L705.9 747.1 L706.6 746 L707.3 743.6 L708 744.7 L708.7 742.8 L709.4 745.2 L710.1 745.2 L710.8 747.5 L711.5 749.3 L712.2 750.8 L712.9 753.7 L713.6 755.5 L714.3 756.2 L715 758.2 L715.7 757.2 L716.4 759 L717.1 759.3 L717.8 759.2 L718.5 760.7 L719.2 758.6 L719.9 759.5 L720.6 759.6 L721.3 759.3 L722 761 L722.7 759.9 L723.4 759.8 L724.1 759.6 L724.8 759.6 L725.5 761 L726.2 760.6 L726.9 760.2 L727.6 758.8 L728.3 760 L729 758.7 L729.7 759.4 L730.4 758.5 L731.1 760.4 L731.8 761.2 L732.5 760.2 L733.2 760 L733.9 759.1 L734.6 759.7 L735.3 759.8 L736 759.6 L736.7 759.2 L737.4 759.1 L738.1 760.6 L738.8 761.2 L739.5 760.8 L740.2 760.2 L740.9 758.6 L741.6 759.4 L742.3 760.9 L743 761.3 L743.7 760.1 L744.4 760.1 L745.1 760.5 L745.8 759.2 L746.5 760.6 L747.2 759.6 L747.9 761 L748.6 759.9 L749.3 760.5 L750 760.2 L750.7 760.1 L751.4 759.9 L752.1 761.3 L752.8 760.7 L753.5 759.8 L754.2 760.1 L754.9 761.2 L755.6 760.7 L756.3 760.5 L757 761.4 L757.7 759 L758.4 760.4 L759.1 760.4 L759.8 760 L760.5 761.4 L761.2 761.4 L761.9 759.8 L762.6 760.4 L763.3 760.8 L764 760.6 L764.7 759.7 L765.4 760.8 L766.1 759.5 L766.8 758.9 L767.5 760.2 L768.2 760.1 L768.9 759.3 L769.6 759.4 L770.3 760.5 L771 759.8 L771.7 758.5 L772.4 759.6 L773.1 758.4 L773.8 757.7 L774.5 758.2 L775.2 758.4 L775.9 758.5 L776.6 757.8 L777.3 757.7 L778 757 L778.7 756.1 L779.4 757.4 L780.1 756.6 L780.8 759.1 L781.5 757.7 L782.2 758.7 L782.9 759.3 L783.6 758 L784.3 760.1 L785 758.9 L785.7 758.4 L786.4 760 L787.1 759.6 L787.8 761.2 L788.5 760 L789.2 759.1 L789.9 758.9 L790.6 759 L791.3 760.3 L792 761 L792.7 759.1 L793.4 759.9 L794.1 760.4 L794.8 761.6 L795.5 761.8 L796.2 761.5 L796.9 760.9 L797.6 760.7 L798.3 759.7 L799 760.8 L799.7 759.6 L800.4 760 L801.1 761.4 L801.8 760.7 L802.5 761.2 L803.2 760.4 L803.9 759.9 L804.6 760.6 L805.3 760.8 L806 759.8 L806.7 761.5 L807.4 761.9 L808.1 759.7 L808.8 759.9 L809.5 761.5 L810.2 761.2 L810.9 759.8 L811.6 760.9 L812.3 759.9 L813 761.6 L813.7 760.9 L814.4 760.7 L815.1 759.7 L815.8 760.4 L816.5 760.6 L817.2 760.3 L817.9 759.8 L818.6 759.8 L819.3 761.3 L820 761.9 L820.7 761.7 L821.4 761 L822.1 761.5 L822.8 759.7 L823.5 759.9 L824.2 761.3 L824.9 759.4 L825.6 759.6 L826.3 761.5 L827 759.9 L827.7 759.9 L828.4 760.5 L829.1 761.7 L829.8 759.4 L830.5 761.9 L831.2 760.3 L831.9 761 L832.6 760.7 L833.3 759.8 L834 762.1 L834.7 759.9 L835.4 761.7 L836.1 761.9 L836.8 760.7 L837.5 762.2 L838.2 759.7 L838.9 759.9 L839.6 760.9 L840.3 759.7 L841 761.8 L841.7 761 L842.4 761.8 L843.1 760.3 L843.8 759.6 L844.5 762 L845.2 760.1 L845.9 760.7 L846.6 759.9 L847.3 761.2 L848 760.9 L848.7 760.1 L849.4 759.7 L850.1 760.5 L850.8 761.8 L851.5 760.1 L852.2 760.3 L852.9 761.4 L853.6 761.4 L854.3 761.9 L855 761.5 L855.7 762.1 L856.4 760.1 L857.1 762.3 L857.8 759.8 L858.5 760 L859.2 760 L859.9 761.9 L860.6 761.2 L861.3 762.3 L862 762.5 L862.7 762.4 L863.4 761.5 L864.1 760.8 L864.8 762.5 L865.5 761.9 L866.2 760.4 L866.9 761.4 L867.6 759.9 L868.3 759.9 L869 761.6 L869.7 761.9 L870.4 762.3 L871.1 762 L871.8 760.3 L872.5 762 L873.2 762.6 L873.9 761.8 L874.6 761.3 L875.3 760.8 L876 760.1 L876.7 761.7 L877.4 762.6 L878.1 760.3 L878.8 762.3 L879.5 762.5 L880.2 761 L880.9 762.4 L881.6 760.4 L882.3 760.9 L883 761.6 L883.7 762.5 L884.4 761.5 L885.1 760.3 L885.8 762.7 L886.5 761.7 L887.2 762.3 L887.9 760.7 L888.6 761 L889.3 760.4 L890 760.6 L890.7 761.4 L891.4 761.3 L892.1 762 L892.8 762.5 L893.5 761.1 L894.2 762.8 L894.9 762 L895.6 761.2 L896.3 760.7 L897 762.9 L897.7 762.1 L898.4 760.3 L899.1 762.2 L899.8 761.3 L900.5 761.4 L901.2 762.4 L901.9 760.9 L902.6 761 L903.3 761.8 L904 762.8 L904.7 760.6 L905.4 762.7 L906.1 762.3 L906.8 760.8 L907.5 762.2 L908.2 762.1 L908.9 762.4 L909.6 761.9 L910.3 761.3 L911 761.8 L911.7 761.1 L912.4 761.7 L913.1 761.6 L913.8 760.7 L914.5 761.1 L915.2 761.4 L915.9 761.6 L916.6 762 L917.3 762.6 L918 761.2 L918.7 762 L919.4 761.4 L920.1 761.1 L920.8 760.9 L921.5 763.2 L922.2 763.1 L922.9 762.9 L923.6 761 L924.3 761 L925 760.9 L925.7 761.4 L926.4 761.8 L927.1 760.6 L927.8 761.8 L928.5 762.6 L929.2 763 L929.9 761.2 L930.6 760.7 L931.3 762.9 L932 761.7 L932.7 761.6 L933.4 761.1 L934.1 761.4 L934.8 761.4 L935.5 761.4 L936.2 761.4 L936.9 762.2 L937.6 763 L938.3 761.6 L939 761.9 L939.7 762.1 L940.4 763.1 L941.1 762.9 L941.8 763.6 L942.5 761.3 L943.2 763.1 L943.9 761.6 L944.6 762.4 L945.3 762.3 L946 762.5 L946.7 761.8 L947.4 761.1 L948.1 760.9 L948.8 763.5 L949.5 763.4 L950.2 762.2 L950.9 761.2 L951.6 763.2 L952.3 762.3 L953 762.2 L953.7 762.7 L954.4 761.3 L955.1 761.5 L955.8 763.2 L956.5 763 L957.2 763.7 L957.9 762.1 L958.6 763.6 L959.3 763.4 L960 762.3 L960.7 763.4 L961.4 761.4 L962.1 761.1 L962.8 763.2 L963.5 761.3 L964.2 762.4 L964.9 763 L965.6 762.8 L966.3 761.5 L967 763.1 L967.7 761 L968.4 762.5 L969.1 763.4 L969.8 762.5 L970.5 761.8 L971.2 763.7 L971.9 763 L972.6 763.1 L973.3 763.4 L974 763.5 L974.7 762.5 L975.4 763.2 L976.1 762.3 L976.8 761.6 L977.5 761.7 L978.2 761.7 L978.9 761 L979.6 762.7 L980.3 762.1 L981 763.5 L981.7 761.1 L982.4 763.1 L983.1 761.5 L983.8 761.8 L984.5 761.8 L985.2 763.6 L985.9 762.8 L986.6 762.3 L987.3 761.5 L988 761.1 L988.7 762 L989.4 763.7 L990.1 762.2 L990.8 762.8 L991.5 763.4 L992.2 761.1 L992.9 761.9 L993.6 762.1 L994.3 761.6 L995 762 L995.7 762.9 L996.4 761.3 L997.1 762.9 L997.8 761.8 L998.5 762.8 L999.2 761.4 L999.9 763.2 L1000.6 762.1 L1001.3 763.3 L1002 763.7 L1002.7 762.6 L1003.4 761 L1004.1 762 L1004.8 763.7 L1005.5 762.8 L1006.2 763.1 L1006.9 762.3 L1007.6 763.6 L1008.3 763.5 L1009 762.7 L1009.7 762.6 L1010.4 761.3 L1011.1 761 L1011.8 761.6 L1012.5 763 L1013.2 763.4 L1013.9 763.1 L1014.6 763.5 L1015.3 761.1 L1016 761.1 L1016.7 761.7 L1017.4 761 L1018.1 762.6 L1018.8 763.6 L1019.5 763.5 L1020.2 761.3 L1020.9 762.8 L1021.6 762.9 L1022.3 762.8 L1023 762.1 L1023.7 761.7 L1024.4 763.5 L1025.1 763.5 L1025.8 763 L1026.5 762.5 L1027.2 761.1 L1027.9 761.8 L1028.6 761.7 L1029.3 761.7 L1030 761.6 L1030.7 762.9 L1031.4 762.9 L1032.1 761.5 L1032.8 763.5 L1033.5 761 L1034.2 763.7 L1034.9 762.6 L1035.6 762.8 L1036.3 761.8 L1037 762.9 L1037.7 763.5 L1038.4 761.6 L1039.1 761.4 L1039.8 763.2 L1040.5 761.7 L1041.2 761.3 L1041.9 762.4 L1042.6 761.5 L1043.3 761.6 L1044 761.8 L1044.7 761.3 L1045.4 763.3 L1046.1 762.6 L1046.8 762.9 L1047.5 761.8 L1048.2 763.2 L1048.9 763.7 L1049.6 763.8 L1050.3 761.1 L1051 761.9 L1051.7 761.3 L1052.4 762.4 L1053.1 762.9 L1053.8 762.7 L1054.5 762 L1055.2 763.7 L1055.9 762.8 L1056.6 763.8 L1057.3 762.2 L1058 762.8 L1058.7 761.3 L1059.4 762.5 L1060.1 762.8 L1060.8 761.7 L1061.5 762.8 L1062.2 761.4 L1062.9 762.3 L1063.6 762.7 L1064.3 762.4 L1065 761.5 L1065.7 761.6 L1066.4 762.1 L1067.1 762.9 L1067.8 762.3 L1068.5 761.6 L1069.2 762 L1069.9 761.9 L1070.6 761.4 L1071.3 762.7 L1072 762.4 L1072.7 762 L1073.4 761.1 L1074.1 763.6 L1074.8 761.2 L1075.5 761.4 L1076.2 761.9 L1076.9 763.3 L1077.6 763.7 L1078.3 763.2 L1079 761.6 L1079.7 763.4 L1080.4 761.2 L1081.1 761.4 L1081.8 761.4 L1082.5 762.6 L1083.2 762.7 L1083.9 762.8 L1084.6 763.7 L1085.3 763.2 L1086 763.2 L1086.7 761.6 L1087.4 763.6 L1088.1 763.6 L1088.8 763.4 L1089.5 761.3 L1090.2 763.1 L1090.9 762.5 L1091.6 762.6 L1092.3 761.8 L1093 763.2 L1093.7 763.3 L1094.4 763.2 L1095.1 761.9 L1095.8 763.1 L1096.5 761.3 L1097.2 763 L1097.9 761.2 L1098.6 761.1 L1099.3 761.4 L1100 762.9 L1100.7 763.8 L1101.4 762.4 L1102.1 762.9 L1102.8 762.7 L1103.5 763.4 L1104.2 763.8 L1104.9 763.4 L1105.6 762 L1106.3 761.3 L1107 763.6 L1107.7 761.9 L1108.4 763.2" fill="none" stroke="#008000" stroke-width="3.1" stroke-linejoin="round"/><text x="262" y="135.6" font-size="28" font-style="italic">Si</text><text x="379.5" y="347.7" font-size="28" font-style="italic">Ca</text><text x="283.5" y="467.4" font-size="28" font-style="italic">P</text><text x="401.5" y="495.4" font-size="28" font-style="italic">Ca</text><text x="160" y="512.6" font-size="28" font-style="italic">Ca</text><text x="186.3" y="494.2" font-size="28" font-style="italic">O</text><text x="212" y="504.8" font-size="28" font-style="italic">Zn</text><text x="695" y="499.2" font-size="28" font-style="italic">Zn</text><text x="1048" y="514.3" font-size="26" font-style="italic" fill="#0000ff">Sr</text><text x="229" y="727.5" font-size="27" font-style="italic" fill="#008000">Mg</text><text x="827" y="518.8" font-size="30.5" font-weight="bold" font-style="italic" fill="#0000ff">Powder-Sr</text><text x="827" y="745" font-size="30.7" font-weight="bold" font-style="italic" fill="#008000">Powder-Mg</text></g><g font-family='"Liberation Sans", sans-serif'><text x="202.3" y="1066" font-size="48.3" font-weight="bold">(e)</text><path d="M204 1128.5 V2455.5 H1072" fill="none" stroke="#000" stroke-width="3.4"/><path d="M204 1791.5 H1072" fill="none" stroke="#000" stroke-width="3.4"/><path d="M291.2 1791.5 V1781 M378 1791.5 V1773.5 M464.8 1791.5 V1781 M551.5 1791.5 V1773.5 M638.2 1791.5 V1781 M725 1791.5 V1773.5 M811.8 1791.5 V1781 M898.5 1791.5 V1773.5 M985.2 1791.5 V1781 M1072 1791.5 V1773.5 M291.2 2455.5 V2445 M378 2455.5 V2437.5 M464.8 2455.5 V2445 M551.5 2455.5 V2437.5 M638.2 2455.5 V2445 M725 2455.5 V2437.5 M811.8 2455.5 V2445 M898.5 2455.5 V2437.5 M985.2 2455.5 V2445 M1072 2455.5 V2437.5" stroke="#000" stroke-width="3.2"/><text x="204.5" y="2505.5" font-size="40" font-weight="bold" text-anchor="middle">10</text><text x="378" y="2505.5" font-size="40" font-weight="bold" text-anchor="middle">20</text><text x="551.5" y="2505.5" font-size="40" font-weight="bold" text-anchor="middle">30</text><text x="725" y="2505.5" font-size="40" font-weight="bold" text-anchor="middle">40</text><text x="898.5" y="2505.5" font-size="40" font-weight="bold" text-anchor="middle">50</text><text x="1072" y="2505.5" font-size="40" font-weight="bold" text-anchor="middle">60</text><text transform="translate(130.2 1456) rotate(-90)" font-size="49" font-weight="bold" text-anchor="middle">Intensity (a.u.)</text><text transform="translate(130.2 2132) rotate(-90)" font-size="49" font-weight="bold" text-anchor="middle">Intensity (a.u.)</text><text x="579" y="2590" font-size="48" font-weight="bold">2</text><text transform="translate(609.5 2590.5) scale(1.27 1)" font-size="48" font-style="italic" font-family='"Liberation Serif", serif'>θ</text><text x="646.5" y="2590" font-size="47" font-weight="bold">(</text><text x="662" y="2567" font-size="29" font-weight="bold">o</text><text x="680.5" y="2590" font-size="47" font-weight="bold">)</text><path d="M204.5 1648 L205.6 1630 L206.6 1632.6 L207.6 1637 L208.9 1634.7 L210.2 1631.5 L211.5 1629.5 L212.6 1632 L213.7 1634.3 L214.8 1636 L215.9 1637.4 L217 1640.2 L218.1 1646.2 L219.2 1648 L220.4 1643.9 L221.6 1640.6 L222.9 1640.2 L224.1 1635.1 L225.3 1632 L226.5 1635.2 L227.6 1635.9 L228.8 1638 L230.2 1642.4 L231.5 1645.7 L232.8 1662.5 L234.2 1679.3 L235.3 1696.2 L236.5 1713 L237.6 1710 L238.8 1710.1 L239.9 1709.2 L241 1706.2 L242.3 1709.5 L243.6 1713.6 L244.8 1716.6 L246.1 1719.2 L247.2 1712.3 L248.3 1705.4 L249.5 1698.5 L250.6 1691.6 L251.9 1693.4 L253.1 1699.3 L254.4 1701.7 L255.5 1698.9 L256.6 1694.7 L257.8 1690.6 L258.9 1690.5 L260 1686 L261.1 1689.8 L262.2 1694.6 L263.4 1699.1 L264.5 1701.7 L265.6 1707.2 L266.7 1712.7 L267.9 1715.5 L269 1721.7 L270.1 1725.3 L271.4 1723.6 L272.7 1723.9 L274 1722.2 L275.3 1717.9 L276.6 1716.5 L277.9 1716.3 L279 1716.8 L280.1 1721.1 L281.3 1720.8 L282.4 1723 L283.5 1724.1 L284.6 1720.9 L285.7 1719.2 L286.9 1716.3 L288 1713.7 L289.1 1711.8 L290.2 1710.2 L291.4 1708.3 L292.5 1707.5 L293.6 1704.8 L294.7 1703.8 L295.9 1701.6 L297 1698.4 L298.2 1702 L299.5 1702.7 L300.7 1702.8 L302 1707.2 L303.2 1709.4 L304.5 1711.1 L305.7 1711.7 L307 1714.1 L308.2 1715.2 L309.3 1711.5 L310.4 1711.2 L311.5 1707.6 L312.7 1704 L313.8 1700.5 L314.9 1699.5 L316 1702.6 L317.2 1705 L318.3 1705.1 L319.6 1699.5 L321 1698 L322.3 1692.8 L323.6 1698.8 L324.8 1704.2 L326.1 1711.8 L327.2 1707.7 L328.4 1706.1 L329.5 1703.1 L330.6 1698.4 L331.9 1695.4 L333.2 1696.2 L334.5 1692.8 L335.8 1693.9 L337.1 1691.2 L338.4 1690.5 L339.5 1687.4 L340.6 1683.3 L341.8 1677.1 L342.9 1672.6 L344 1677.2 L345.1 1677.5 L346.3 1679.5 L347.4 1683.8 L348.5 1681.6 L349.6 1677.1 L350.8 1675.1 L351.9 1673.7 L353 1672.6 L354.1 1672.5 L355.2 1670.1 L356.4 1668.9 L357.5 1671 L358.6 1668.2 L359.7 1668.1 L361.2 1664.2 L362.7 1656.9 L363.9 1660.6 L365.1 1661 L366.4 1663.5 L367.6 1665.9 L368.7 1659.7 L369.8 1653.9 L371 1647.4 L372.1 1641 L373.2 1634.5 L374.6 1639.4 L376.1 1643.4 L377.3 1638.8 L378.6 1631.1 L379.8 1624.7 L381 1618.8 L382.1 1619.6 L383.3 1617.9 L384.4 1618.1 L385.5 1620.5 L386.7 1618.9 L387.8 1618.8 L389.1 1625.7 L390.5 1630.5 L391.8 1639 L393 1632.9 L394.2 1627.6 L395.4 1619.8 L396.6 1616.1 L397.8 1609.8 L398.9 1611 L400.1 1609.6 L401.2 1612.4 L402.3 1612.5 L403.4 1613.9 L404.6 1613.5 L405.7 1615.4 L406.8 1615.4 L407.9 1612.5 L409 1606.1 L410.2 1602.4 L411.3 1600.8 L412.4 1596.4 L413.5 1596.6 L414.6 1592.5 L415.8 1591.7 L416.9 1590.7 L418 1588.3 L419.1 1587.4 L420.5 1580.9 L421.8 1574.8 L423.2 1569.5 L424.5 1573.1 L425.7 1578 L427 1581.8 L428.3 1574.7 L429.5 1568.7 L430.8 1562.8 L432.1 1571.4 L433.5 1579.9 L434.8 1588.5 L435.9 1591.3 L437 1590.4 L438.2 1594.1 L439.3 1596.5 L440.4 1597.5 L441.5 1593.1 L442.7 1589 L443.8 1586.3 L444.9 1584.6 L446 1579.8 L447.1 1576.8 L448.3 1574.9 L449.4 1573 L450.5 1569.5 L451.7 1571.7 L452.9 1576.2 L454 1579.9 L455.2 1584.1 L456.3 1580.2 L457.4 1573.6 L458.5 1570 L459.6 1563.6 L461 1554.4 L462.3 1547.5 L463.2 1499.3 L464.1 1427.9 L465 1320.7 L465.9 1276.1 L466.8 1231.4 L468 1207.3 L469.1 1249.3 L470.4 1320.7 L472.1 1427.9 L473.5 1468.1 L474.8 1508.2 L475.7 1485.9 L476.6 1463.6 L477.8 1435.4 L478.9 1407.3 L479.8 1426.5 L480.7 1445.7 L481.8 1485.8 L482.9 1526 L484.2 1543.9 L485.5 1561.8 L486.6 1564.8 L487.8 1569.4 L488.9 1573.8 L490 1576 L491.2 1572.6 L492.4 1568.5 L493.6 1566.3 L494.8 1571.2 L495.9 1578.9 L497.1 1585 L498.5 1576.1 L499.8 1567.2 L501.1 1558.2 L502.5 1549.3 L503.6 1550.9 L504.8 1555.8 L505.9 1558.5 L507 1560 L508.1 1556.2 L509.2 1553.9 L510.3 1553.1 L511.4 1549.3 L512.6 1548.5 L513.7 1547.9 L514.9 1544.9 L516 1542.9 L517.2 1542.2 L518.3 1542.7 L519.5 1540.4 L520.8 1542.5 L522.1 1545.6 L523.5 1548.8 L524.8 1552 L526 1548.4 L527.2 1545.1 L528.4 1542.1 L529.6 1536.8 L530.9 1527.3 L532.1 1520 L533.4 1516.6 L534.6 1508.2 L536 1485.9 L537.3 1463.6 L538.2 1418.9 L539.1 1374.3 L540.5 1319.8 L541.8 1356.4 L542.7 1383.2 L543.6 1410 L544.9 1441.2 L546.2 1472.5 L547.6 1487.7 L548.9 1502.9 L550.2 1497.1 L551.6 1488.6 L552.7 1497.1 L553.9 1501.8 L555 1510.3 L556.1 1515.4 L557.4 1510 L558.8 1500.5 L560.1 1495.5 L561.4 1487.7 L562.5 1489.6 L563.6 1489.6 L564.8 1489.8 L565.9 1490.4 L567 1491 L568.1 1492.5 L569.3 1493.4 L570.4 1495.7 L571.6 1482 L572.7 1468.3 L573.9 1454.6 L575 1440.3 L576.1 1426 L577.3 1411.8 L578.4 1397.5 L579.6 1408.8 L580.8 1420.1 L582 1431.4 L583.4 1423.1 L584.7 1414.7 L586.1 1406.4 L587.4 1416.5 L588.7 1426.7 L590 1436.8 L591.2 1451.7 L592.4 1466.5 L593.6 1481.4 L594.9 1490.3 L596.2 1499.2 L597.6 1508.2 L598.9 1517.1 L600 1524.2 L601.1 1531.4 L602.3 1538.5 L603.4 1545.7 L604.5 1550.4 L605.6 1558.5 L606.8 1563.7 L607.9 1570.7 L609.1 1577.2 L610.4 1579.8 L611.6 1588.2 L612.9 1592.8 L614.1 1597.5 L615.2 1598.6 L616.4 1598 L617.5 1597.6 L618.6 1595.7 L619.7 1598.9 L620.8 1599.8 L621.9 1605.3 L623 1606.2 L624.1 1610.3 L625.1 1612.3 L626.2 1616.4 L627.2 1618.6 L628.2 1613.5 L629.3 1608.3 L630.5 1614.2 L631.8 1622.3 L633 1627.3 L634.3 1632.5 L635.5 1639.3 L636.7 1629.8 L638 1620.3 L639.2 1610.7 L640.5 1601.2 L641.7 1591.7 L642.9 1600.1 L644.1 1608.6 L645.3 1617 L646.4 1625.4 L647.6 1633.8 L648.8 1642.3 L650 1650.7 L651.2 1640.5 L652.4 1630.3 L653.6 1620.1 L654.7 1609.9 L655.9 1599.7 L657.1 1589.5 L658.3 1579.3 L659.7 1589.3 L661 1599.3 L662.4 1609.3 L663.5 1596.1 L664.5 1582.9 L665.5 1569.8 L666.6 1556.6 L667.6 1569.7 L668.7 1582.8 L669.7 1595.9 L670.7 1619.3 L671.8 1642.8 L672.8 1666.2 L674 1657.9 L675.3 1649.6 L676.5 1641.4 L677.8 1633.1 L679 1624.8 L680.2 1635.4 L681.5 1645.9 L682.7 1656.5 L684 1667 L685.2 1677.6 L686.5 1674.4 L687.8 1674.3 L689 1670.5 L690.3 1668.3 L691.4 1673.1 L692.4 1675.4 L693.5 1679.7 L694.9 1674.8 L696.2 1672.2 L697.6 1668.3 L699 1676.7 L700.3 1681.6 L701.7 1690 L703 1691.3 L704.3 1692 L705.6 1691.9 L706.9 1691 L708.1 1678.4 L709.3 1665.8 L710.5 1653.2 L711.7 1640.7 L712.9 1628.1 L714.1 1615.5 L715.4 1628.2 L716.7 1640.8 L718 1653.5 L719.3 1666.2 L720.5 1674.3 L721.7 1678.2 L723 1687.4 L724.2 1695.1 L725.4 1699.1 L726.6 1707.6 L727.8 1702.6 L729.1 1698.5 L730.3 1695.3 L731.6 1690.8 L732.8 1686.9 L734.2 1686.8 L735.5 1687.9 L736.9 1686.9 L738.2 1689.3 L739.5 1693.6 L740.8 1698 L742.1 1703.5 L743.4 1697.7 L744.7 1693.1 L746 1692 L747.3 1685.9 L748.5 1693.5 L749.7 1697.1 L750.9 1705 L752.1 1710.6 L753.3 1717 L754.5 1724 L755.7 1721.5 L756.8 1720.5 L758 1718 L759.3 1721 L760.7 1722.8 L762 1726 L763.2 1722.4 L764.5 1720.4 L765.8 1717.1 L767 1716 L768.3 1719.2 L769.7 1722.8 L771 1725 L772.2 1723.6 L773.3 1721.5 L774.5 1722 L775.7 1714.4 L776.9 1708.7 L778 1703.2 L779.2 1697.4 L780.4 1690 L781.6 1694.2 L782.8 1700.4 L784 1704.4 L785.2 1708.4 L786.4 1712.9 L787.6 1718 L788.9 1708.2 L790.2 1698.3 L791.5 1688.4 L792.8 1678.6 L794.2 1644.8 L795.5 1611 L796.9 1577.2 L798.4 1614.5 L799.5 1626.5 L800.7 1638.5 L801.8 1650.5 L803 1662.5 L804.1 1674.5 L805.4 1672.4 L806.7 1671.1 L808 1668 L809.3 1666.2 L810.6 1667.9 L811.9 1668.2 L813.2 1668.4 L814.5 1670.4 L815.7 1664.8 L816.8 1659.7 L818 1651.8 L819.1 1647.3 L820.3 1641.6 L821.5 1637.6 L822.6 1632.1 L823.8 1624.8 L825 1629.9 L826.2 1637.3 L827.4 1642.4 L828.6 1646.1 L829.8 1652.3 L831 1658 L832.2 1650.8 L833.4 1643.5 L834.5 1636.2 L835.7 1629 L836.9 1621.8 L838 1614.5 L839.2 1607.2 L840.4 1600 L841.7 1610.9 L843 1621.8 L844.2 1632.6 L845.5 1643.5 L846.6 1642.3 L847.8 1644.9 L848.9 1644.5 L850 1644.1 L851.4 1643.4 L852.7 1641 L854.1 1637.9 L855.3 1629.2 L856.6 1620.5 L857.8 1611.9 L859.1 1603.2 L860.3 1594.5 L861.3 1604.2 L862.4 1613.8 L863.4 1623.5 L864.5 1643.1 L865.5 1662.8 L866.6 1682.4 L868 1670 L869.3 1657.6 L870.7 1645.2 L872.1 1652.7 L873.4 1659.8 L874.8 1665.9 L876.1 1666.9 L877.4 1666 L878.7 1668.5 L880 1669 L881.4 1670 L882.7 1673.2 L884.1 1677.3 L885.1 1673.8 L886.2 1666.7 L887.2 1663.8 L888.5 1666.5 L889.8 1670.7 L891.1 1677.6 L892.4 1680.4 L893.6 1670.6 L894.8 1660.7 L896 1650.9 L897.3 1641.1 L898.5 1631.2 L899.7 1621.4 L901 1630.2 L902.2 1639 L903.5 1647.8 L904.8 1656.6 L905.8 1652.3 L906.9 1648.6 L908 1648.5 L909 1644.1 L910.3 1655.5 L911.5 1666.9 L912.8 1678.3 L914.1 1689.7 L915.4 1687.3 L916.7 1688.8 L918 1687.2 L919.3 1685.5 L920.3 1693.8 L921.4 1702.1 L922.7 1699.7 L924 1696.5 L925.3 1691.5 L926.6 1687.6 L927.8 1686.2 L929.1 1681 L930.3 1681.1 L931.6 1677.7 L932.8 1675.2 L934 1687.1 L935.2 1699 L936.4 1710.9 L937.6 1722.8 L938.8 1734.7 L940 1746.6 L941.2 1740.8 L942.3 1732.1 L943.5 1727.8 L944.6 1721.9 L945.8 1712.2 L946.9 1706.6 L948.1 1700.9 L949.2 1695.3 L950.4 1687.6 L951.8 1690.1 L953.1 1693.4 L954.5 1698 L955.7 1697.1 L956.9 1698.4 L958.1 1698.9 L959.3 1697.6 L960.5 1697.5 L961.7 1698 L963 1692.2 L964.3 1686.6 L965.6 1681.4 L966.9 1676.2 L968.1 1679.3 L969.3 1685.5 L970.5 1691.9 L971.7 1694.5 L972.9 1700.3 L974.1 1704.1 L975.4 1703.7 L976.6 1706.5 L977.9 1707.5 L979.1 1708.1 L980.4 1708.3 L981.8 1714.6 L983.1 1720.6 L984.5 1726.9 L985.9 1716.6 L987.2 1706.2 L988.6 1695.9 L990 1696.4 L991.4 1697.3 L992.8 1695.9 L994 1703.7 L995.1 1711.4 L996.3 1719.2 L997.5 1726.9 L998.6 1734.7 L999.8 1742.4 L1000.9 1750.2 L1002.1 1757.9 L1003.4 1751 L1004.7 1745.1 L1006 1741.8 L1007.3 1735.2 L1008.3 1737.4 L1009.4 1736.7 L1010.4 1737.3 L1011.8 1722.1 L1013.1 1706.9 L1014.5 1691.7 L1015.7 1690.3 L1017 1690 L1018.2 1686.8 L1019.5 1685.9 L1020.7 1685.5 L1021.7 1698 L1023 1689.7 L1024.3 1681.4 L1025.6 1673.1 L1026.9 1664.8 L1028.2 1674.1 L1029.5 1683.4 L1030.8 1692.8 L1032.1 1702.1 L1033.3 1701.3 L1034.5 1703 L1035.7 1702.3 L1036.8 1702.3 L1038 1704.2 L1039.2 1705.4 L1040.4 1704.1 L1041.5 1704.1 L1042.7 1706.2 L1043.8 1705.9 L1045 1708.2 L1046.1 1707.9 L1047.3 1707.5 L1048.4 1708 L1049.6 1708 L1050.7 1710.4 L1052 1705.4 L1053.3 1700.1 L1054.6 1694.4 L1055.9 1690.7 L1056.9 1694 L1058 1697.7 L1059 1702.1 L1060.2 1702.3 L1061.5 1699.2 L1062.7 1701.4 L1064 1698.7 L1065.2 1698 L1066.6 1699 L1067.9 1699.2 L1069.3 1700 L1070.5 1692.2 L1071.8 1684.5" fill="none" stroke="#0000ff" stroke-width="3.5" stroke-linejoin="round"/><path d="M204.6 2340 L205.2 2327 L206.2 2329.7 L207.2 2335 L208.1 2331.1 L209 2331 L209.9 2333 L210.8 2336 L211.6 2331.3 L212.5 2327.9 L213.3 2327 L214.2 2330.9 L215.1 2337.7 L216 2340 L217 2343.9 L218 2345 L218.8 2345.3 L219.7 2343 L220.5 2345.6 L221.3 2351 L222.2 2353.7 L223 2358.7 L223.9 2355.3 L224.8 2353.2 L225.7 2351.9 L226.6 2353.6 L227.5 2349.7 L228.4 2350.4 L229.3 2349.4 L230.2 2348.5 L231.1 2344.7 L232 2345.3 L232.8 2348.6 L233.7 2354.3 L234.5 2358.9 L235.3 2362 L236.2 2366 L237.1 2368.3 L238 2366.8 L238.9 2371.5 L239.8 2373.3 L240.7 2370.7 L241.5 2366.6 L242.3 2361.6 L243.2 2359.8 L244.1 2361.9 L245 2362.3 L245.9 2368.6 L246.8 2370.5 L247.7 2371 L248.5 2370.7 L249.3 2368.9 L250.2 2371.3 L251 2368.8 L251.8 2373.9 L252.7 2380.1 L253.6 2384.7 L254.4 2387.8 L255.3 2389 L256.2 2389.6 L257.1 2391.6 L258 2391.9 L258.9 2393.4 L259.8 2388.7 L260.7 2386.2 L261.6 2385.5 L262.5 2378.7 L263.4 2377.8 L264.2 2382.8 L265 2387.9 L265.9 2392.9 L266.7 2397.9 L267.6 2394.8 L268.6 2396.6 L269.5 2394 L270.4 2394.3 L271.4 2393.1 L272.3 2392.3 L273.2 2390.2 L274.1 2392 L275 2386.8 L275.9 2386.5 L276.8 2385.6 L277.7 2381.9 L278.6 2381.8 L279.5 2377.8 L280.4 2375.9 L281.3 2374.4 L282.2 2377.3 L283.2 2376.9 L284.1 2379.7 L285 2383.1 L286 2380.9 L286.9 2384.5 L287.8 2380.9 L288.8 2380.2 L289.7 2381.3 L290.6 2379.1 L291.6 2375.7 L292.5 2375.5 L293.4 2374.7 L294.2 2374 L295.1 2375.3 L296 2373.3 L296.8 2376.4 L297.7 2377.4 L298.6 2377.7 L299.4 2376.6 L300.3 2375.5 L301.2 2379.4 L302.2 2376.6 L303.1 2379.5 L304.1 2384.5 L305.1 2385.2 L306 2385.6 L306.9 2383.8 L307.7 2385 L308.6 2382.1 L309.5 2381.7 L310.3 2377.8 L311.2 2375.9 L312.1 2375.8 L312.9 2372.9 L313.8 2373.3 L314.6 2369.9 L315.5 2369.9 L316.4 2364 L317.2 2362 L318.1 2358.3 L318.9 2357.2 L319.8 2356.5 L320.6 2358.2 L321.4 2354.8 L322.3 2354.2 L323.3 2357 L324.3 2359.9 L325.2 2368 L326.2 2369.1 L327.2 2373.3 L328.1 2370.8 L329 2368.9 L329.9 2367.8 L330.8 2367.2 L331.7 2368.5 L332.6 2364.8 L333.5 2363.2 L334.4 2364.2 L335.3 2361.9 L336.2 2362 L337.1 2363 L338 2357.5 L338.9 2358.1 L339.8 2358 L340.7 2355.3 L341.6 2353.7 L342.6 2355.4 L343.5 2351.8 L344.4 2349.6 L345.4 2349.3 L346.3 2348.6 L347.2 2348.6 L348.1 2352.7 L349 2354.1 L349.9 2359.4 L350.8 2359.8 L351.7 2356.2 L352.6 2349.5 L353.5 2342.1 L354.4 2338 L355.3 2334 L356.2 2333 L357.1 2333.1 L357.9 2333.4 L358.8 2336.7 L359.7 2335.2 L360.5 2330.8 L361.2 2327.8 L362 2327.3 L362.9 2329.5 L363.8 2327.8 L364.8 2330 L365.7 2327.2 L366.6 2329.7 L367.5 2328.6 L368.4 2329.4 L369.3 2329.3 L370.3 2328.2 L371.2 2326.3 L372.1 2328.4 L373 2326.6 L373.9 2329.3 L374.8 2329 L375.7 2328.7 L376.6 2326.2 L377.4 2321.1 L378.2 2316.1 L379.1 2311.1 L379.9 2306 L380.8 2304.7 L381.8 2305.7 L382.7 2305.8 L383.6 2304.5 L384.6 2304.8 L385.5 2302.7 L386.5 2302.3 L387.4 2302.5 L388.4 2302.1 L389.3 2299.6 L390.3 2302.3 L391.2 2302 L392.2 2299.3 L393 2293.5 L393.7 2294.1 L394.5 2288.1 L395.3 2293.1 L396.1 2294.5 L397 2294.3 L397.8 2299.3 L398.6 2291.1 L399.3 2282.9 L400.1 2274.7 L401 2279.7 L401.9 2279.2 L402.8 2286.3 L403.7 2288 L404.6 2290.3 L405.5 2284.5 L406.5 2281.2 L407.4 2279.7 L408.3 2275.7 L409.3 2272.8 L410.2 2267.9 L411.1 2271.8 L412.1 2270.3 L413 2271.1 L413.9 2277.4 L414.9 2274.9 L415.8 2279.1 L416.7 2279.2 L417.7 2273.9 L418.6 2275.5 L419.5 2273.7 L420.5 2272.5 L421.4 2269 L422.3 2269.5 L423.2 2271.3 L424.1 2268.3 L425 2270.8 L425.9 2270.2 L426.9 2263.2 L427.9 2256.2 L428.9 2249.2 L429.9 2242.2 L430.8 2247 L431.8 2255.3 L432.8 2260.3 L433.7 2264.6 L434.6 2264.1 L435.4 2264 L436.3 2261.2 L437.2 2260.9 L438 2263.2 L438.9 2262.3 L439.8 2263.7 L440.6 2262.1 L441.5 2261.2 L442.4 2258.6 L443.3 2258.8 L444.2 2259.8 L445.1 2257.8 L446 2254.4 L446.9 2257.5 L447.8 2256.6 L448.7 2252.1 L449.6 2253.2 L450.5 2255.3 L451.5 2256.4 L452.4 2260.2 L453.3 2259.8 L454.3 2261.3 L455.2 2264.3 L456.1 2268.5 L457.1 2266.2 L458 2270 L458.9 2263.9 L459.9 2262.2 L460.8 2259.2 L461.7 2253.2 L462.6 2251.6 L463.4 2249.5 L464.3 2249.9 L465.1 2247.8 L466 2244.8 L466.8 2246.8 L467.6 2254.8 L468.5 2255.6 L469.3 2260.2 L470.1 2265.2 L471.1 2262.7 L472 2256.7 L473 2254.4 L473.9 2247.3 L474.9 2244.8 L475.8 2251.1 L476.7 2257.4 L477.6 2263.7 L478.5 2270 L479.4 2269.4 L480.4 2263.6 L481.3 2261.1 L482.2 2260.4 L483.2 2257.2 L484.1 2255.8 L485 2255.1 L486 2251.8 L486.9 2248.4 L487.9 2250.3 L488.8 2256.1 L489.8 2261.6 L490.7 2265.6 L491.7 2270 L492.6 2273.4 L493.4 2274.8 L494.3 2275.2 L495.2 2278.4 L496.1 2283.7 L496.9 2283.8 L497.8 2286.9 L498.6 2278.9 L499.4 2270.8 L500.2 2262.8 L501.1 2264.8 L501.9 2266.5 L502.8 2265.5 L503.6 2266.4 L504.5 2266.8 L505.3 2266.1 L506.2 2267.7 L507.2 2270.6 L508.1 2269.5 L509.1 2272.6 L510 2270.6 L511 2272.5 L511.9 2272.7 L512.7 2270.8 L513.6 2268.4 L514.4 2266 L515.3 2263 L516.1 2264.5 L517 2261.6 L517.9 2262.8 L518.9 2266.1 L519.8 2265.5 L520.7 2267.1 L521.7 2269.3 L522.6 2274.3 L523.5 2273.2 L524.5 2278.6 L525.4 2278.5 L526.3 2273.7 L527.2 2270.4 L528.1 2265.1 L529 2261.6 L529.9 2261 L530.7 2257.2 L531.6 2257.5 L532.5 2258.9 L533.4 2254.1 L534.2 2255.1 L535.1 2253.2 L536 2217.1 L537 2181 L538.2 2060.7 L539.4 1940.3 L540.6 1882.1 L541.5 1911.2 L542.3 1940.3 L543.5 2108.8 L544.4 2168.9 L545.2 2229.1 L546.2 2239.5 L547.3 2250 L548.3 2260.4 L549.2 2265.8 L550.1 2271.2 L551 2276.7 L551.9 2282.1 L552.8 2277.7 L553.7 2273.9 L554.6 2269 L555.5 2267.7 L556.5 2273.5 L557.4 2279.2 L558.4 2285 L559.3 2290.7 L560.3 2296.5 L561.3 2297.6 L562.2 2305.4 L563.2 2308.2 L564.1 2311.5 L565.1 2313.4 L566.1 2311.5 L567.1 2308.8 L568 2301.6 L569 2300.3 L570 2296.5 L570.9 2296.3 L571.7 2296.4 L572.6 2297.9 L573.5 2296.9 L574.4 2297.7 L575.2 2293.4 L576.1 2295.7 L577 2295.6 L577.9 2295.7 L578.7 2294.9 L579.6 2294.1 L580.6 2298.1 L581.5 2298 L582.5 2303.4 L583.4 2303.3 L584.4 2306.2 L585.3 2307.3 L586.2 2309.3 L587.1 2309 L588 2307.7 L588.9 2307.9 L589.8 2309 L590.7 2311 L591.6 2311 L592.5 2315.8 L593.4 2317.7 L594.3 2317.7 L595.2 2320.1 L596.1 2324.5 L597 2324.4 L597.9 2327.4 L598.8 2330.2 L599.7 2326.7 L600.6 2326.3 L601.5 2326.8 L602.5 2326.3 L603.4 2324.8 L604.3 2322.3 L605.2 2324 L606.1 2320.6 L607.1 2324.1 L608 2324.7 L609 2327.2 L609.9 2334.4 L610.9 2335 L611.9 2334.7 L612.8 2331.7 L613.8 2327.6 L614.7 2323.5 L615.7 2321.8 L616.6 2320.6 L617.5 2322.1 L618.4 2322.7 L619.3 2326.9 L620.2 2327.4 L621.1 2327.6 L622 2325.4 L622.9 2327.8 L623.8 2325.9 L624.6 2325.5 L625.5 2327.9 L626.3 2323.4 L627.2 2325.8 L628 2324.6 L628.9 2323 L629.7 2328.1 L630.6 2335 L631.4 2336.6 L632.3 2342.8 L633.1 2347.6 L633.9 2347.6 L634.7 2349 L635.6 2350.3 L636.4 2353.4 L637.2 2355.9 L638 2351.6 L638.9 2348.8 L639.7 2350.8 L640.6 2345 L641.4 2343.5 L642.2 2349.5 L643 2352.7 L643.9 2357 L644.7 2360.8 L645.5 2364.2 L646.3 2363.9 L647.2 2361 L648 2357.8 L648.9 2354.5 L649.7 2351.7 L650.6 2344.9 L651.6 2338.1 L652.5 2331.2 L653.5 2324.4 L654.4 2317.6 L655.2 2323.5 L656.1 2329.3 L656.9 2335.2 L657.9 2344.9 L659 2354.5 L660 2364.2 L660.8 2366.4 L661.6 2367.8 L662.5 2368.2 L663.3 2369.2 L664.1 2370.4 L665.1 2370.8 L666.2 2376.2 L667.2 2376.6 L668 2374.4 L668.9 2370.4 L669.7 2368.8 L670.6 2370.1 L671.4 2366.2 L672.2 2365.4 L673 2366.5 L673.9 2368.3 L674.7 2369.6 L675.5 2368.3 L676.4 2369.2 L677.2 2371.2 L678.1 2373.1 L679 2372.9 L679.8 2378.7 L680.7 2378.6 L681.5 2378.6 L682.3 2385.4 L683.2 2383.8 L684 2386.1 L684.8 2390 L685.6 2388.6 L686.5 2385.4 L687.3 2379.4 L688.2 2377.9 L689 2374.5 L690 2377.2 L691.1 2381.1 L692.1 2382.8 L693 2381.4 L693.9 2384.6 L694.8 2385.6 L695.6 2384.4 L696.5 2385.5 L697.4 2385.8 L698.3 2383.8 L699.1 2383 L699.9 2385.1 L700.8 2384.8 L701.6 2383.4 L702.4 2382.8 L703.3 2382.1 L704.2 2385.7 L705.1 2388.3 L705.9 2386.6 L706.8 2389.4 L707.7 2391.7 L708.6 2391 L709.6 2382.7 L710.7 2374.5 L711.7 2366.2 L712.7 2351 L713.8 2335.9 L714.8 2320.7 L715.8 2332.4 L716.9 2344.2 L717.9 2355.9 L718.9 2369.7 L720 2383.5 L721 2397.3 L721.8 2395.7 L722.7 2390.9 L723.5 2391.7 L724.4 2387.8 L725.2 2386.9 L726.2 2387.3 L727.3 2384.9 L728.3 2382.8 L729.2 2383.2 L730 2387.4 L730.9 2387.5 L731.8 2387.5 L732.6 2391.2 L733.5 2391 L734.4 2393 L735.3 2393.1 L736.2 2393.2 L737.1 2392.2 L738.1 2392.6 L739 2392.2 L739.9 2392 L740.8 2394.3 L741.7 2392.1 L742.6 2391 L743.5 2389.2 L744.4 2391.8 L745.2 2390.3 L746.1 2390.1 L747 2389.9 L747.9 2389 L748.8 2385.7 L749.6 2383.4 L750.5 2380.7 L751.4 2382.1 L752.2 2380.6 L753.1 2376.6 L754.1 2381.7 L755.2 2383 L756.2 2389 L757.1 2391 L758 2390 L758.9 2388.1 L759.7 2385.4 L760.6 2389.2 L761.5 2387.8 L762.4 2386.9 L763.3 2388.5 L764.1 2386.7 L765 2391.1 L765.9 2388.8 L766.7 2392 L767.6 2393.1 L768.5 2389.3 L769.3 2388.3 L770.2 2388.8 L771.1 2386 L771.9 2384.3 L772.8 2380.7 L773.6 2380.4 L774.4 2381.4 L775.3 2383.1 L776.1 2380.9 L776.9 2383.8 L777.8 2369.6 L778.8 2355.4 L779.7 2341.1 L780.6 2326.9 L781.5 2341.9 L782.4 2356.9 L783.2 2371.9 L784.1 2386.9 L785 2388 L785.9 2392.3 L786.8 2392.8 L787.8 2394.8 L788.7 2393.7 L789.6 2397.1 L790.5 2399.1 L791.4 2399.3 L792.3 2400.9 L793.2 2400.2 L794.1 2399.5 L794.9 2399.4 L795.8 2404.2 L796.7 2405 L797.6 2403.5 L798.4 2403.7 L799.2 2407.2 L800.1 2406.8 L800.9 2409.1 L801.7 2409.7 L802.7 2413.1 L803.6 2412.3 L804.6 2415.4 L805.6 2415.4 L806.5 2418.3 L807.5 2420 L808.4 2413.2 L809.3 2409.8 L810.3 2405.4 L811.2 2403.8 L812.1 2397.3 L813 2393.6 L813.9 2394.6 L814.8 2389.5 L815.7 2391.8 L816.6 2385.9 L817.5 2383.6 L818.4 2382.3 L819.3 2381.7 L820.2 2382.6 L821.1 2380.2 L822 2380.1 L822.8 2377 L823.7 2374 L824.6 2373.9 L825.5 2373.5 L826.3 2376.2 L827.2 2381.7 L828 2380.6 L828.9 2383.9 L829.7 2388 L830.6 2388.7 L831.5 2384.3 L832.4 2387.5 L833.3 2383.4 L834.2 2383.8 L835.1 2383.3 L836 2383.6 L836.9 2380.7 L837.9 2382.1 L839 2389.2 L840 2391 L840.9 2385.3 L841.7 2383.8 L842.6 2376.3 L843.5 2375.7 L844.3 2368.8 L845.2 2366.2 L846 2362.7 L846.8 2359.8 L847.7 2359.2 L848.5 2357.1 L849.3 2355.9 L850.2 2349.9 L851 2343.8 L851.9 2337.8 L852.8 2331.8 L853.6 2325.7 L854.5 2319.7 L855.3 2327.8 L856.1 2335.8 L857 2343.9 L857.8 2351.9 L858.6 2360 L859.5 2364.6 L860.5 2365.2 L861.5 2366.3 L862.4 2369.3 L863.3 2375.8 L864.2 2376 L865.2 2380.4 L866.1 2385.9 L867 2375.8 L867.9 2365.8 L868.8 2355.7 L869.6 2345.7 L870.5 2335.6 L871.4 2325.6 L872.3 2315.5 L873.2 2327.7 L874.1 2339.9 L875.1 2352.2 L876 2364.4 L876.9 2376.6 L877.7 2378.2 L878.5 2377.5 L879.4 2375.6 L880.2 2376.4 L881 2373.5 L881.9 2374 L882.7 2380.6 L883.6 2382.2 L884.5 2384.6 L885.3 2388.1 L886.2 2389 L887.1 2384.7 L887.9 2382.7 L888.8 2380 L889.7 2379.2 L890.5 2377.1 L891.4 2374.5 L892.3 2376.3 L893.3 2377 L894.2 2380.5 L895.1 2382.5 L896.1 2383.7 L897 2381.9 L898 2384 L898.9 2386 L899.8 2387.6 L900.8 2390.9 L901.7 2392.1 L902.5 2388.8 L903.4 2389 L904.2 2385.8 L905.1 2384 L905.9 2382.8 L906.8 2383.5 L907.7 2384.2 L908.6 2380.3 L909.5 2380.7 L910.5 2383.4 L911.4 2379.4 L912.3 2378.1 L913.2 2378.6 L914.1 2379.7 L915 2382.8 L915.9 2383.8 L916.9 2386.3 L917.8 2385.6 L918.7 2384.9 L919.6 2387.7 L920.6 2391.2 L921.5 2391.1 L922.4 2393.1 L923.3 2389.8 L924.3 2389.4 L925.2 2388.3 L926.1 2386.2 L927 2385.1 L928 2382.1 L928.9 2380 L929.8 2382.1 L930.8 2380.3 L931.7 2377.6 L932.6 2377.6 L933.6 2376.6 L934.5 2377.8 L935.4 2379.5 L936.4 2381.5 L937.3 2380 L938.2 2382.7 L939.1 2381 L940.1 2379.8 L941 2381.7 L941.9 2384.8 L942.8 2387.2 L943.7 2389.7 L944.5 2392.8 L945.4 2392 L946.3 2396.5 L947.2 2399.3 L948.1 2399.3 L949 2394.6 L949.9 2392.7 L950.8 2391.9 L951.7 2390.9 L952.6 2390.2 L953.5 2389 L954.4 2387.6 L955.4 2388.7 L956.3 2386 L957.2 2386.4 L958.2 2387.5 L959.1 2386.4 L960.1 2387.9 L961 2387.3 L961.9 2383.6 L962.9 2383.5 L963.8 2383.8 L964.7 2385.9 L965.6 2387.9 L966.5 2388.9 L967.3 2393.3 L968.2 2392 L969.1 2395.2 L970 2397.3 L970.9 2396 L971.8 2400.3 L972.8 2399.5 L973.7 2401.9 L974.6 2398.4 L975.5 2401.7 L976.5 2401.7 L977.4 2399.7 L978.3 2402.4 L979.2 2403.1 L980.1 2402.6 L981 2397.9 L981.8 2401.3 L982.7 2399.7 L983.6 2398 L984.5 2396.9 L985.4 2394.7 L986.3 2392.9 L987.2 2394.1 L988 2395.2 L988.9 2391.2 L989.8 2391.7 L990.7 2391 L991.6 2391.7 L992.5 2395.5 L993.4 2398.6 L994.2 2400 L995.1 2398.9 L996 2401.3 L996.9 2403.5 L997.8 2399.9 L998.7 2401.2 L999.6 2401.5 L1000.5 2400.2 L1001.4 2395.3 L1002.3 2395.8 L1003.2 2392.9 L1004.1 2393.3 L1005.1 2394.4 L1006 2390.1 L1006.9 2391.6 L1007.8 2390.9 L1008.7 2389 L1009.6 2384.8 L1010.5 2387 L1011.4 2383.8 L1012.3 2387.3 L1013.2 2389.2 L1014.2 2386 L1015.1 2387.4 L1016 2390.3 L1016.9 2392.9 L1017.9 2393.9 L1018.8 2393.8 L1019.7 2397.3 L1020.6 2395.7 L1021.6 2393.5 L1022.5 2391.1 L1023.4 2388.2 L1024.3 2386.1 L1025.3 2384.5 L1026.2 2379.2 L1027.1 2378.8 L1028.1 2375 L1029 2374.5 L1029.9 2374.4 L1030.8 2379.3 L1031.7 2379 L1032.5 2380.8 L1033.4 2382.3 L1034.3 2385.5 L1035.2 2386.9 L1036.1 2387 L1037 2391.5 L1037.9 2390.7 L1038.8 2396.8 L1039.7 2394.9 L1040.6 2399.8 L1041.5 2400.7 L1042.4 2402.4 L1043.3 2401.7 L1044.2 2400.8 L1045.2 2400.7 L1046.1 2402.3 L1047 2400.8 L1047.9 2400.5 L1048.9 2398.8 L1049.8 2400.2 L1050.7 2399.3 L1051.6 2398.5 L1052.6 2400.9 L1053.5 2402.5 L1054.4 2402.8 L1055.3 2403.8 L1056.3 2404.6 L1057.2 2403.6 L1058.1 2408.1 L1059.1 2407.7 L1060 2407.6 L1060.9 2406.9 L1061.8 2406.2 L1062.7 2401.9 L1063.7 2399.5 L1064.6 2397.6 L1065.5 2395.8 L1066.4 2394 L1067.3 2393.1 L1068.2 2393.1 L1069.1 2393.4 L1070 2395.5 L1070.9 2395.5 L1071.8 2397.3" fill="none" stroke="#008000" stroke-width="3.2" stroke-linejoin="round"/><circle cx="467.7" cy="1181.8" r="12" fill="none" stroke="#ff0000" stroke-width="4"/><circle cx="541.4" cy="1294.3" r="14.3" fill="#ff0000"/><circle cx="485" cy="1382" r="14.3" fill="#ff0000"/><rect x="568" y="1357.9" width="28.8" height="28.8" rx="1.5" fill="#ff0000"/><circle cx="543.5" cy="1857.8" r="14.3" fill="#ff0000"/><circle cx="834.7" cy="1096.6" r="14.3" fill="#ff0000"/><circle cx="834.7" cy="1157" r="12" fill="none" stroke="#ff0000" stroke-width="4.5"/><rect x="820.2" y="1204.2" width="29.2" height="29.2" rx="1.5" fill="#ff0000"/><g font-size="31.5" font-style="italic"><text><tspan x="882" y="1109.8">SiO</tspan><tspan x="934.5" y="1119.8" font-size="18">2</tspan></text><text><tspan x="882" y="1170.1">Si</tspan><tspan x="909.5" y="1180.1" font-size="18">5</tspan><tspan x="921" y="1170.1">(</tspan><tspan x="930.5" y="1170.1">PO</tspan><tspan x="977.5" y="1180.1" font-size="18">4</tspan><tspan x="985" y="1170.1">)</tspan><tspan x="998.8" y="1180.1" font-size="18">6</tspan><tspan x="1010.5" y="1170.1">O</tspan></text><text><tspan x="882" y="1231">Ca</tspan><tspan x="923" y="1241" font-size="18">1.8</tspan><tspan x="949.5" y="1231">Sr</tspan><tspan x="980.8" y="1241" font-size="18">0.2</tspan><tspan x="1008" y="1231">SiO</tspan><tspan x="1062.5" y="1241" font-size="18">4</tspan></text></g><text x="728" y="1554.5" font-size="36.6" font-weight="bold" font-style="italic" fill="#0000ff">Powder-Sr</text><text x="727.5" y="2290.7" font-size="36.6" font-weight="bold" font-style="italic" fill="#008000">Powder-Mg</text></g></svg>
</body></html>
